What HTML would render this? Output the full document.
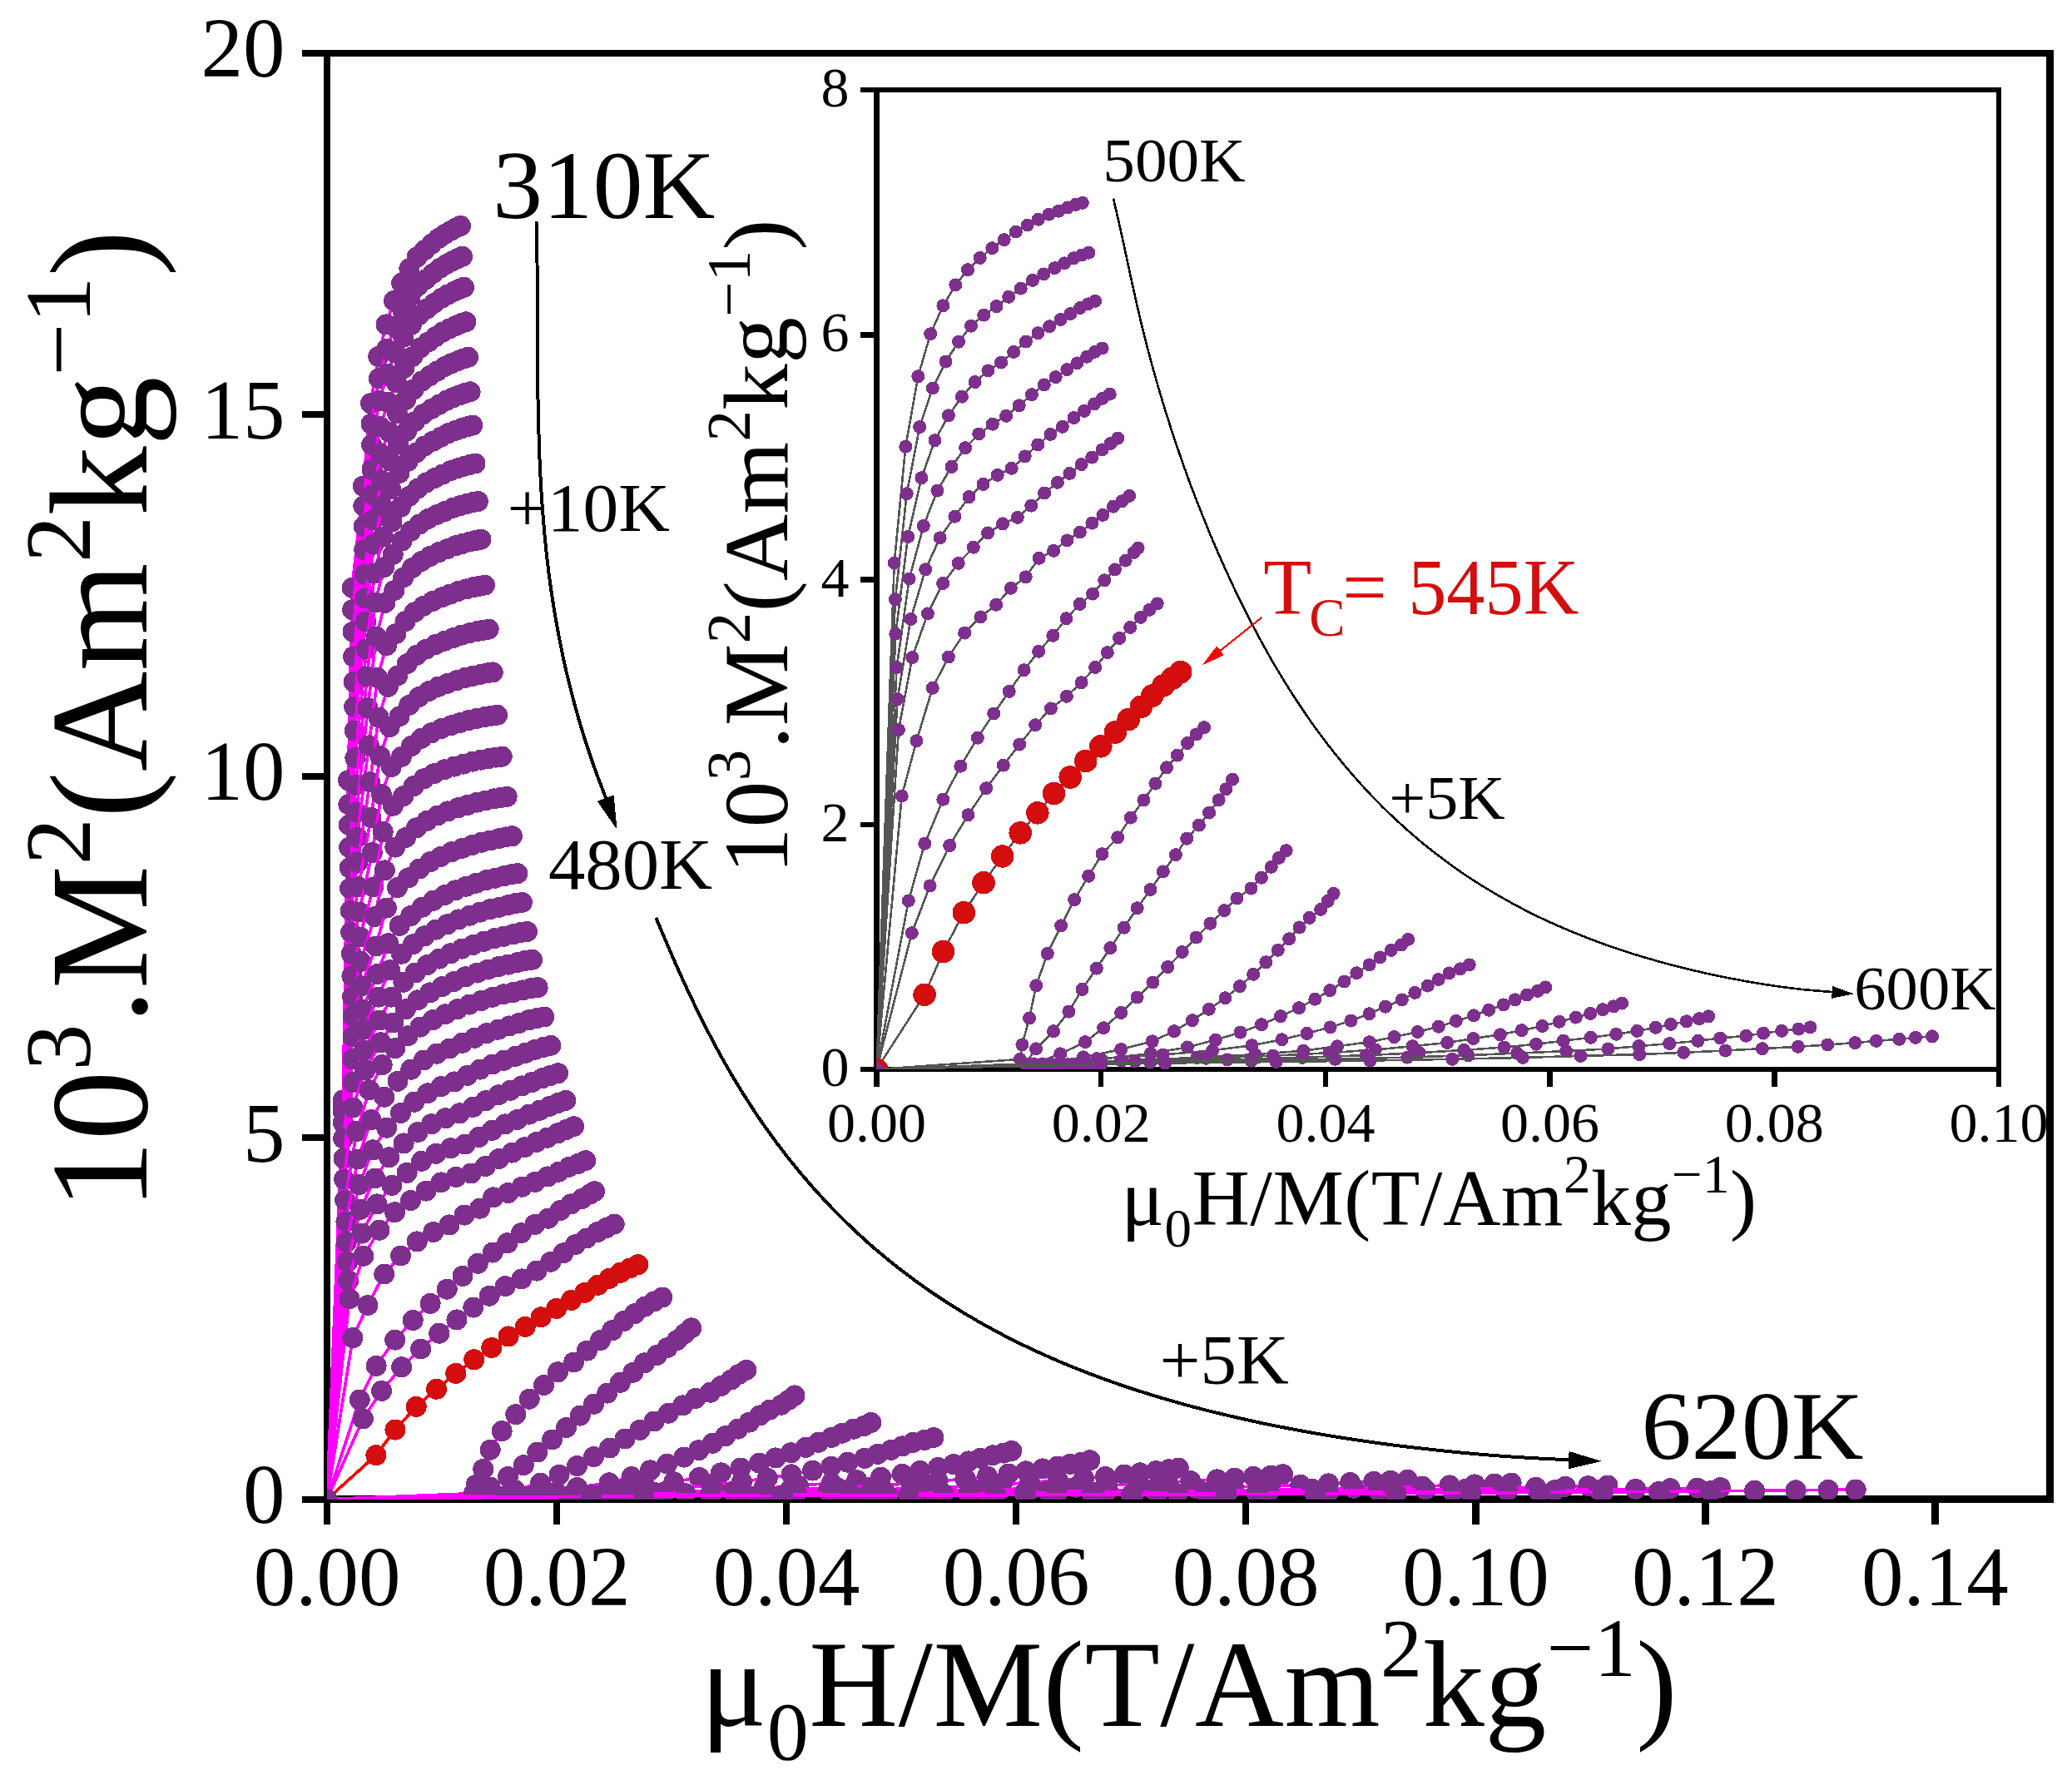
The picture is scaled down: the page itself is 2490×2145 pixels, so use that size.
<!DOCTYPE html>
<html lang="en"><head><meta charset="utf-8"><title>Arrott plot</title>
<style>html,body{margin:0;padding:0;background:#fff}svg{display:block}text{font-family:"Liberation Serif","Times New Roman",serif;fill:#000}</style></head><body>
<svg shape-rendering="crispEdges" width="2490" height="2145" viewBox="0 0 2490 2145">
<rect width="2490" height="2145" fill="#fff"/>
<defs><clipPath id="cm"><rect x="393" y="63.7" width="2070.5" height="1738"/></clipPath><clipPath id="ci"><rect x="1053.5" y="108" width="1348.5" height="1177"/></clipPath></defs>
<rect x="393" y="63.7" width="2070.5" height="1738" fill="none" stroke="#000" stroke-width="8.4"/>
<line x1="393" y1="1801.7" x2="393" y2="1831.9" stroke="#000" stroke-width="8.4"/>
<text x="393" y="1929" font-size="101" text-anchor="middle">0.00</text>
<line x1="669.1" y1="1801.7" x2="669.1" y2="1831.9" stroke="#000" stroke-width="8.4"/>
<text x="669.1" y="1929" font-size="101" text-anchor="middle">0.02</text>
<line x1="945.1" y1="1801.7" x2="945.1" y2="1831.9" stroke="#000" stroke-width="8.4"/>
<text x="945.1" y="1929" font-size="101" text-anchor="middle">0.04</text>
<line x1="1221.2" y1="1801.7" x2="1221.2" y2="1831.9" stroke="#000" stroke-width="8.4"/>
<text x="1221.2" y="1929" font-size="101" text-anchor="middle">0.06</text>
<line x1="1497.2" y1="1801.7" x2="1497.2" y2="1831.9" stroke="#000" stroke-width="8.4"/>
<text x="1497.2" y="1929" font-size="101" text-anchor="middle">0.08</text>
<line x1="1773.3" y1="1801.7" x2="1773.3" y2="1831.9" stroke="#000" stroke-width="8.4"/>
<text x="1773.3" y="1929" font-size="101" text-anchor="middle">0.10</text>
<line x1="2049.4" y1="1801.7" x2="2049.4" y2="1831.9" stroke="#000" stroke-width="8.4"/>
<text x="2049.4" y="1929" font-size="101" text-anchor="middle">0.12</text>
<line x1="2325.4" y1="1801.7" x2="2325.4" y2="1831.9" stroke="#000" stroke-width="8.4"/>
<text x="2325.4" y="1929" font-size="101" text-anchor="middle">0.14</text>
<line x1="393" y1="1801.7" x2="362.8" y2="1801.7" stroke="#000" stroke-width="8.4"/>
<text x="342.5" y="1830.2" font-size="101" text-anchor="end">0</text>
<line x1="393" y1="1367.2" x2="362.8" y2="1367.2" stroke="#000" stroke-width="8.4"/>
<text x="342.5" y="1395.7" font-size="101" text-anchor="end">5</text>
<line x1="393" y1="932.7" x2="362.8" y2="932.7" stroke="#000" stroke-width="8.4"/>
<text x="342.5" y="961.2" font-size="101" text-anchor="end">10</text>
<line x1="393" y1="498.2" x2="362.8" y2="498.2" stroke="#000" stroke-width="8.4"/>
<text x="342.5" y="526.7" font-size="101" text-anchor="end">15</text>
<line x1="393" y1="63.7" x2="362.8" y2="63.7" stroke="#000" stroke-width="8.4"/>
<text x="342.5" y="92.2" font-size="101" text-anchor="end">20</text>
<g clip-path="url(#cm)">
<polyline fill="none" stroke="#FF00FF" stroke-width="3.7" points="393,1801.7 412.3,1322 418.5,937.7 423.2,706.4 436.4,584.1 445.5,484.7 454.8,428.4 464,389.9 473.4,361.5 482.7,340.1 491.9,322.7 501.1,309.1 510.2,300.6 518.7,293.1 527.1,286.4 534.6,281.5 542,277.2 548.1,273.8 553.5,271.4"/>
<g fill="#7E2F8E"><circle cx="393" cy="1801.7" r="12.5"/><circle cx="412.3" cy="1322" r="12.5"/><circle cx="418.5" cy="937.7" r="12.5"/><circle cx="423.2" cy="706.4" r="12.5"/><circle cx="436.4" cy="584.1" r="12.5"/><circle cx="445.5" cy="484.7" r="12.5"/><circle cx="454.8" cy="428.4" r="12.5"/><circle cx="464" cy="389.9" r="12.5"/><circle cx="473.4" cy="361.5" r="12.5"/><circle cx="482.7" cy="340.1" r="12.5"/><circle cx="491.9" cy="322.7" r="12.5"/><circle cx="501.1" cy="309.1" r="12.5"/><circle cx="510.2" cy="300.6" r="12.5"/><circle cx="518.7" cy="293.1" r="12.5"/><circle cx="527.1" cy="286.4" r="12.5"/><circle cx="534.6" cy="281.5" r="12.5"/><circle cx="542" cy="277.2" r="12.5"/><circle cx="548.1" cy="273.8" r="12.5"/><circle cx="553.5" cy="271.4" r="12.5"/></g>
<polyline fill="none" stroke="#FF00FF" stroke-width="3.7" points="393,1801.7 412.3,1322.9 418.5,937.7 423.6,732.8 436.8,608.1 446,509.4 455.4,454.8 464.8,419.5 474.3,392.7 483.7,372.5 493.1,356.4 502.3,343.8 511.6,335.8 520.2,328.7 528.7,322.3 536.3,317.7 543.8,313.7 550,310.6 555.5,308.3"/>
<g fill="#7E2F8E"><circle cx="393" cy="1801.7" r="12.5"/><circle cx="412.3" cy="1322.9" r="12.5"/><circle cx="418.5" cy="937.7" r="12.5"/><circle cx="423.6" cy="732.8" r="12.5"/><circle cx="436.8" cy="608.1" r="12.5"/><circle cx="446" cy="509.4" r="12.5"/><circle cx="455.4" cy="454.8" r="12.5"/><circle cx="464.8" cy="419.5" r="12.5"/><circle cx="474.3" cy="392.7" r="12.5"/><circle cx="483.7" cy="372.5" r="12.5"/><circle cx="493.1" cy="356.4" r="12.5"/><circle cx="502.3" cy="343.8" r="12.5"/><circle cx="511.6" cy="335.8" r="12.5"/><circle cx="520.2" cy="328.7" r="12.5"/><circle cx="528.7" cy="322.3" r="12.5"/><circle cx="536.3" cy="317.7" r="12.5"/><circle cx="543.8" cy="313.7" r="12.5"/><circle cx="550" cy="310.6" r="12.5"/><circle cx="555.5" cy="308.3" r="12.5"/></g>
<polyline fill="none" stroke="#FF00FF" stroke-width="3.7" points="393,1801.7 412.3,1323.8 418.5,937.7 424,759.3 437.3,632.5 446.5,534.5 456,481.6 465.6,449.3 475.2,424.1 484.8,405.2 494.3,390.2 503.7,378.6 513.1,371 521.8,364.4 530.4,358.4 538.1,354.1 545.7,350.3 552,347.4 557.5,345.3"/>
<g fill="#7E2F8E"><circle cx="393" cy="1801.7" r="12.5"/><circle cx="412.3" cy="1323.8" r="12.5"/><circle cx="418.5" cy="937.7" r="12.5"/><circle cx="424" cy="759.3" r="12.5"/><circle cx="437.3" cy="632.5" r="12.5"/><circle cx="446.5" cy="534.5" r="12.5"/><circle cx="456" cy="481.6" r="12.5"/><circle cx="465.6" cy="449.3" r="12.5"/><circle cx="475.2" cy="424.1" r="12.5"/><circle cx="484.8" cy="405.2" r="12.5"/><circle cx="494.3" cy="390.2" r="12.5"/><circle cx="503.7" cy="378.6" r="12.5"/><circle cx="513.1" cy="371" r="12.5"/><circle cx="521.8" cy="364.4" r="12.5"/><circle cx="530.4" cy="358.4" r="12.5"/><circle cx="538.1" cy="354.1" r="12.5"/><circle cx="545.7" cy="350.3" r="12.5"/><circle cx="552" cy="347.4" r="12.5"/><circle cx="557.5" cy="345.3" r="12.5"/></g>
<polyline fill="none" stroke="#FF00FF" stroke-width="3.7" points="393,1801.7 412.3,1324.6 418.5,937.7 424.5,789 437.8,660.7 447.1,563.9 456.8,512.7 466.5,483.6 476.3,459.9 486,442.3 495.7,428.6 505.2,417.9 514.8,410.8 523.6,404.6 532.4,398.9 540.2,395 547.9,391.4 554.3,388.7 559.9,386.8"/>
<g fill="#7E2F8E"><circle cx="393" cy="1801.7" r="12.5"/><circle cx="412.3" cy="1324.6" r="12.5"/><circle cx="418.5" cy="937.7" r="12.5"/><circle cx="424.5" cy="789" r="12.5"/><circle cx="437.8" cy="660.7" r="12.5"/><circle cx="447.1" cy="563.9" r="12.5"/><circle cx="456.8" cy="512.7" r="12.5"/><circle cx="466.5" cy="483.6" r="12.5"/><circle cx="476.3" cy="459.9" r="12.5"/><circle cx="486" cy="442.3" r="12.5"/><circle cx="495.7" cy="428.6" r="12.5"/><circle cx="505.2" cy="417.9" r="12.5"/><circle cx="514.8" cy="410.8" r="12.5"/><circle cx="523.6" cy="404.6" r="12.5"/><circle cx="532.4" cy="398.9" r="12.5"/><circle cx="540.2" cy="395" r="12.5"/><circle cx="547.9" cy="391.4" r="12.5"/><circle cx="554.3" cy="388.7" r="12.5"/><circle cx="559.9" cy="386.8" r="12.5"/></g>
<polyline fill="none" stroke="#FF00FF" stroke-width="3.7" points="393,1801.7 412.3,1325.5 418.5,937.7 425.1,819.5 438.4,690.1 447.8,594.6 457.6,545.2 467.5,519 477.5,496.9 487.4,480.6 497.2,468 506.9,458.2 516.6,451.6 525.6,445.9 534.5,440.5 542.5,436.8 550.3,433.6 556.8,431.1 562.5,429.3"/>
<g fill="#7E2F8E"><circle cx="393" cy="1801.7" r="12.5"/><circle cx="412.3" cy="1325.5" r="12.5"/><circle cx="418.5" cy="937.7" r="12.5"/><circle cx="425.1" cy="819.5" r="12.5"/><circle cx="438.4" cy="690.1" r="12.5"/><circle cx="447.8" cy="594.6" r="12.5"/><circle cx="457.6" cy="545.2" r="12.5"/><circle cx="467.5" cy="519" r="12.5"/><circle cx="477.5" cy="496.9" r="12.5"/><circle cx="487.4" cy="480.6" r="12.5"/><circle cx="497.2" cy="468" r="12.5"/><circle cx="506.9" cy="458.2" r="12.5"/><circle cx="516.6" cy="451.6" r="12.5"/><circle cx="525.6" cy="445.9" r="12.5"/><circle cx="534.5" cy="440.5" r="12.5"/><circle cx="542.5" cy="436.8" r="12.5"/><circle cx="550.3" cy="433.6" r="12.5"/><circle cx="556.8" cy="431.1" r="12.5"/><circle cx="562.5" cy="429.3" r="12.5"/></g>
<polyline fill="none" stroke="#FF00FF" stroke-width="3.7" points="393,1801.7 412.3,1326.4 418.5,937.7 425.7,849.2 439,718.9 448.5,624.7 458.5,577.1 468.6,553.8 478.7,533.2 488.7,518 498.7,506.6 508.6,497.7 518.4,491.4 527.6,486.2 536.7,481.2 544.7,477.7 552.7,474.7 559.3,472.4 565.1,470.8"/>
<g fill="#7E2F8E"><circle cx="393" cy="1801.7" r="12.5"/><circle cx="412.3" cy="1326.4" r="12.5"/><circle cx="418.5" cy="937.7" r="12.5"/><circle cx="425.7" cy="849.2" r="12.5"/><circle cx="439" cy="718.9" r="12.5"/><circle cx="448.5" cy="624.7" r="12.5"/><circle cx="458.5" cy="577.1" r="12.5"/><circle cx="468.6" cy="553.8" r="12.5"/><circle cx="478.7" cy="533.2" r="12.5"/><circle cx="488.7" cy="518" r="12.5"/><circle cx="498.7" cy="506.6" r="12.5"/><circle cx="508.6" cy="497.7" r="12.5"/><circle cx="518.4" cy="491.4" r="12.5"/><circle cx="527.6" cy="486.2" r="12.5"/><circle cx="536.7" cy="481.2" r="12.5"/><circle cx="544.7" cy="477.7" r="12.5"/><circle cx="552.7" cy="474.7" r="12.5"/><circle cx="559.3" cy="472.4" r="12.5"/><circle cx="565.1" cy="470.8" r="12.5"/></g>
<polyline fill="none" stroke="#FF00FF" stroke-width="3.7" points="393,1801.7 412.3,1327.2 418.9,966.7 426.2,878 439.6,747 449.2,654.2 459.3,608.3 469.6,587.7 479.9,568.5 490.1,554.4 500.3,544.1 510.3,536 520.3,530.2 529.7,525.3 538.9,520.6 547.1,517.5 555.2,514.6 561.9,512.6 567.8,511.1"/>
<g fill="#7E2F8E"><circle cx="393" cy="1801.7" r="12.5"/><circle cx="412.3" cy="1327.2" r="12.5"/><circle cx="418.9" cy="966.7" r="12.5"/><circle cx="426.2" cy="878" r="12.5"/><circle cx="439.6" cy="747" r="12.5"/><circle cx="449.2" cy="654.2" r="12.5"/><circle cx="459.3" cy="608.3" r="12.5"/><circle cx="469.6" cy="587.7" r="12.5"/><circle cx="479.9" cy="568.5" r="12.5"/><circle cx="490.1" cy="554.4" r="12.5"/><circle cx="500.3" cy="544.1" r="12.5"/><circle cx="510.3" cy="536" r="12.5"/><circle cx="520.3" cy="530.2" r="12.5"/><circle cx="529.7" cy="525.3" r="12.5"/><circle cx="538.9" cy="520.6" r="12.5"/><circle cx="547.1" cy="517.5" r="12.5"/><circle cx="555.2" cy="514.6" r="12.5"/><circle cx="561.9" cy="512.6" r="12.5"/><circle cx="567.8" cy="511.1" r="12.5"/></g>
<polyline fill="none" stroke="#FF00FF" stroke-width="3.7" points="393,1801.7 412.3,1328.1 419.3,991.4 426.9,910.8 440.4,780 450.1,689.1 460.4,645 470.9,627.1 481.4,609.3 491.8,596.4 502.2,587.1 512.4,579.9 522.6,574.5 532.1,570.1 541.5,565.7 549.9,562.8 558.1,560.2 564.9,558.3 571,557"/>
<g fill="#7E2F8E"><circle cx="393" cy="1801.7" r="12.5"/><circle cx="412.3" cy="1328.1" r="12.5"/><circle cx="419.3" cy="991.4" r="12.5"/><circle cx="426.9" cy="910.8" r="12.5"/><circle cx="440.4" cy="780" r="12.5"/><circle cx="450.1" cy="689.1" r="12.5"/><circle cx="460.4" cy="645" r="12.5"/><circle cx="470.9" cy="627.1" r="12.5"/><circle cx="481.4" cy="609.3" r="12.5"/><circle cx="491.8" cy="596.4" r="12.5"/><circle cx="502.2" cy="587.1" r="12.5"/><circle cx="512.4" cy="579.9" r="12.5"/><circle cx="522.6" cy="574.5" r="12.5"/><circle cx="532.1" cy="570.1" r="12.5"/><circle cx="541.5" cy="565.7" r="12.5"/><circle cx="549.9" cy="562.8" r="12.5"/><circle cx="558.1" cy="560.2" r="12.5"/><circle cx="564.9" cy="558.3" r="12.5"/><circle cx="571" cy="557" r="12.5"/></g>
<polyline fill="none" stroke="#FF00FF" stroke-width="3.7" points="393,1801.7 412.3,1329 419.7,1018.3 427.6,943.4 441.1,813 451,724 461.5,681.7 472.2,666.4 482.9,650 493.6,638.2 504.1,629.9 514.6,623.5 525,618.5 534.7,614.5 544.3,610.4 552.8,607.8 561.2,605.4 568.2,603.7 574.3,602.5"/>
<g fill="#7E2F8E"><circle cx="393" cy="1801.7" r="12.5"/><circle cx="412.3" cy="1329" r="12.5"/><circle cx="419.7" cy="1018.3" r="12.5"/><circle cx="427.6" cy="943.4" r="12.5"/><circle cx="441.1" cy="813" r="12.5"/><circle cx="451" cy="724" r="12.5"/><circle cx="461.5" cy="681.7" r="12.5"/><circle cx="472.2" cy="666.4" r="12.5"/><circle cx="482.9" cy="650" r="12.5"/><circle cx="493.6" cy="638.2" r="12.5"/><circle cx="504.1" cy="629.9" r="12.5"/><circle cx="514.6" cy="623.5" r="12.5"/><circle cx="525" cy="618.5" r="12.5"/><circle cx="534.7" cy="614.5" r="12.5"/><circle cx="544.3" cy="610.4" r="12.5"/><circle cx="552.8" cy="607.8" r="12.5"/><circle cx="561.2" cy="605.4" r="12.5"/><circle cx="568.2" cy="603.7" r="12.5"/><circle cx="574.3" cy="602.5" r="12.5"/></g>
<polyline fill="none" stroke="#FF00FF" stroke-width="3.7" points="393,1801.7 412.3,1329.9 420.2,1042.9 428.4,976.1 442.1,850.7 452.1,765 462.8,724.4 473.8,709.6 484.7,693.9 495.5,682.5 506.3,674.6 517,668.4 527.6,663.6 537.5,659.7 547.2,655.8 555.9,653.3 564.5,651 571.6,649.4 577.9,648.2"/>
<g fill="#7E2F8E"><circle cx="393" cy="1801.7" r="12.5"/><circle cx="412.3" cy="1329.9" r="12.5"/><circle cx="420.2" cy="1042.9" r="12.5"/><circle cx="428.4" cy="976.1" r="12.5"/><circle cx="442.1" cy="850.7" r="12.5"/><circle cx="452.1" cy="765" r="12.5"/><circle cx="462.8" cy="724.4" r="12.5"/><circle cx="473.8" cy="709.6" r="12.5"/><circle cx="484.7" cy="693.9" r="12.5"/><circle cx="495.5" cy="682.5" r="12.5"/><circle cx="506.3" cy="674.6" r="12.5"/><circle cx="517" cy="668.4" r="12.5"/><circle cx="527.6" cy="663.6" r="12.5"/><circle cx="537.5" cy="659.7" r="12.5"/><circle cx="547.2" cy="655.8" r="12.5"/><circle cx="555.9" cy="653.3" r="12.5"/><circle cx="564.5" cy="651" r="12.5"/><circle cx="571.6" cy="649.4" r="12.5"/><circle cx="577.9" cy="648.2" r="12.5"/></g>
<polyline fill="none" stroke="#FF00FF" stroke-width="3.7" points="393,1801.7 412.3,1330.8 420.6,1067.5 429.1,1006.4 443.3,895.9 453.6,814.4 464.5,775.7 475.8,761.6 487,746.6 498.1,735.8 509.1,728.2 520.1,722.4 530.9,717.8 541.1,714.1 551,710.3 560,707.9 568.8,705.7 576,704.2 582.4,703.1"/>
<g fill="#7E2F8E"><circle cx="393" cy="1801.7" r="12.5"/><circle cx="412.3" cy="1330.8" r="12.5"/><circle cx="420.6" cy="1067.5" r="12.5"/><circle cx="429.1" cy="1006.4" r="12.5"/><circle cx="443.3" cy="895.9" r="12.5"/><circle cx="453.6" cy="814.4" r="12.5"/><circle cx="464.5" cy="775.7" r="12.5"/><circle cx="475.8" cy="761.6" r="12.5"/><circle cx="487" cy="746.6" r="12.5"/><circle cx="498.1" cy="735.8" r="12.5"/><circle cx="509.1" cy="728.2" r="12.5"/><circle cx="520.1" cy="722.4" r="12.5"/><circle cx="530.9" cy="717.8" r="12.5"/><circle cx="541.1" cy="714.1" r="12.5"/><circle cx="551" cy="710.3" r="12.5"/><circle cx="560" cy="707.9" r="12.5"/><circle cx="568.8" cy="705.7" r="12.5"/><circle cx="576" cy="704.2" r="12.5"/><circle cx="582.4" cy="703.1" r="12.5"/></g>
<polyline fill="none" stroke="#FF00FF" stroke-width="3.7" points="393,1801.7 412.3,1331.6 421.2,1094.4 429.9,1036.2 444.6,939.7 455.1,862.1 466.3,825.3 477.8,811.9 489.3,797.6 500.7,787.3 512,780.1 523.3,774.5 534.4,770.2 544.8,766.6 555,763.1 564.1,760.8 573.2,758.7 580.6,757.2 587.2,756.2"/>
<g fill="#7E2F8E"><circle cx="393" cy="1801.7" r="12.5"/><circle cx="412.3" cy="1331.6" r="12.5"/><circle cx="421.2" cy="1094.4" r="12.5"/><circle cx="429.9" cy="1036.2" r="12.5"/><circle cx="444.6" cy="939.7" r="12.5"/><circle cx="455.1" cy="862.1" r="12.5"/><circle cx="466.3" cy="825.3" r="12.5"/><circle cx="477.8" cy="811.9" r="12.5"/><circle cx="489.3" cy="797.6" r="12.5"/><circle cx="500.7" cy="787.3" r="12.5"/><circle cx="512" cy="780.1" r="12.5"/><circle cx="523.3" cy="774.5" r="12.5"/><circle cx="534.4" cy="770.2" r="12.5"/><circle cx="544.8" cy="766.6" r="12.5"/><circle cx="555" cy="763.1" r="12.5"/><circle cx="564.1" cy="760.8" r="12.5"/><circle cx="573.2" cy="758.7" r="12.5"/><circle cx="580.6" cy="757.2" r="12.5"/><circle cx="587.2" cy="756.2" r="12.5"/></g>
<polyline fill="none" stroke="#FF00FF" stroke-width="3.7" points="393,1801.7 412.3,1332.5 421.7,1120.2 430.7,1065.9 445.9,982.3 456.7,908.6 468.2,873.6 480,860.8 491.8,847.3 503.5,837.5 515.1,830.6 526.6,825.3 538,821.2 548.7,817.8 559.1,814.4 568.5,812.3 577.8,810.3 585.4,808.9 592.2,807.9"/>
<g fill="#7E2F8E"><circle cx="393" cy="1801.7" r="12.5"/><circle cx="412.3" cy="1332.5" r="12.5"/><circle cx="421.7" cy="1120.2" r="12.5"/><circle cx="430.7" cy="1065.9" r="12.5"/><circle cx="445.9" cy="982.3" r="12.5"/><circle cx="456.7" cy="908.6" r="12.5"/><circle cx="468.2" cy="873.6" r="12.5"/><circle cx="480" cy="860.8" r="12.5"/><circle cx="491.8" cy="847.3" r="12.5"/><circle cx="503.5" cy="837.5" r="12.5"/><circle cx="515.1" cy="830.6" r="12.5"/><circle cx="526.6" cy="825.3" r="12.5"/><circle cx="538" cy="821.2" r="12.5"/><circle cx="548.7" cy="817.8" r="12.5"/><circle cx="559.1" cy="814.4" r="12.5"/><circle cx="568.5" cy="812.3" r="12.5"/><circle cx="577.8" cy="810.3" r="12.5"/><circle cx="585.4" cy="808.9" r="12.5"/><circle cx="592.2" cy="807.9" r="12.5"/></g>
<polyline fill="none" stroke="#FF00FF" stroke-width="3.7" points="393,1801.7 412.3,1333.4 422.2,1146 431.6,1096 447.3,1024.6 458.4,954.7 470.2,921.5 482.4,909.4 494.4,896.5 506.4,887.3 518.4,880.8 530.2,875.7 541.9,871.8 552.8,868.6 563.6,865.4 573.3,863.3 582.8,861.5 590.6,860.1 597.5,859.2"/>
<g fill="#7E2F8E"><circle cx="393" cy="1801.7" r="12.5"/><circle cx="412.3" cy="1333.4" r="12.5"/><circle cx="422.2" cy="1146" r="12.5"/><circle cx="431.6" cy="1096" r="12.5"/><circle cx="447.3" cy="1024.6" r="12.5"/><circle cx="458.4" cy="954.7" r="12.5"/><circle cx="470.2" cy="921.5" r="12.5"/><circle cx="482.4" cy="909.4" r="12.5"/><circle cx="494.4" cy="896.5" r="12.5"/><circle cx="506.4" cy="887.3" r="12.5"/><circle cx="518.4" cy="880.8" r="12.5"/><circle cx="530.2" cy="875.7" r="12.5"/><circle cx="541.9" cy="871.8" r="12.5"/><circle cx="552.8" cy="868.6" r="12.5"/><circle cx="563.6" cy="865.4" r="12.5"/><circle cx="573.3" cy="863.3" r="12.5"/><circle cx="582.8" cy="861.5" r="12.5"/><circle cx="590.6" cy="860.1" r="12.5"/><circle cx="597.5" cy="859.2" r="12.5"/></g>
<polyline fill="none" stroke="#FF00FF" stroke-width="3.7" points="393,1801.7 412.3,1334.2 422.9,1172.9 432.5,1126 448.8,1065.9 460.2,999.6 472.3,968.2 484.8,956.7 497.2,944.5 509.6,935.8 521.8,929.6 534,924.8 546,921.1 557.3,918.1 568.3,915.1 578.2,913.1 588,911.3 596,910.1 603.2,909.2"/>
<g fill="#7E2F8E"><circle cx="393" cy="1801.7" r="12.5"/><circle cx="412.3" cy="1334.2" r="12.5"/><circle cx="422.9" cy="1172.9" r="12.5"/><circle cx="432.5" cy="1126" r="12.5"/><circle cx="448.8" cy="1065.9" r="12.5"/><circle cx="460.2" cy="999.6" r="12.5"/><circle cx="472.3" cy="968.2" r="12.5"/><circle cx="484.8" cy="956.7" r="12.5"/><circle cx="497.2" cy="944.5" r="12.5"/><circle cx="509.6" cy="935.8" r="12.5"/><circle cx="521.8" cy="929.6" r="12.5"/><circle cx="534" cy="924.8" r="12.5"/><circle cx="546" cy="921.1" r="12.5"/><circle cx="557.3" cy="918.1" r="12.5"/><circle cx="568.3" cy="915.1" r="12.5"/><circle cx="578.2" cy="913.1" r="12.5"/><circle cx="588" cy="911.3" r="12.5"/><circle cx="596" cy="910.1" r="12.5"/><circle cx="603.2" cy="909.2" r="12.5"/></g>
<polyline fill="none" stroke="#FF00FF" stroke-width="3.7" points="393,1801.7 412.3,1335.1 423.5,1197.5 433.5,1155.4 450.2,1101.5 462.3,1045.9 474.8,1018.1 487.7,1006.5 500.4,994.9 513.1,986.4 525.7,980 538.2,974.9 550.5,970.8 562,967.4 573.4,964.1 583.5,962 593.6,959.9 601.8,958.4 609.1,957.4"/>
<g fill="#7E2F8E"><circle cx="393" cy="1801.7" r="12.5"/><circle cx="412.3" cy="1335.1" r="12.5"/><circle cx="423.5" cy="1197.5" r="12.5"/><circle cx="433.5" cy="1155.4" r="12.5"/><circle cx="450.2" cy="1101.5" r="12.5"/><circle cx="462.3" cy="1045.9" r="12.5"/><circle cx="474.8" cy="1018.1" r="12.5"/><circle cx="487.7" cy="1006.5" r="12.5"/><circle cx="500.4" cy="994.9" r="12.5"/><circle cx="513.1" cy="986.4" r="12.5"/><circle cx="525.7" cy="980" r="12.5"/><circle cx="538.2" cy="974.9" r="12.5"/><circle cx="550.5" cy="970.8" r="12.5"/><circle cx="562" cy="967.4" r="12.5"/><circle cx="573.4" cy="964.1" r="12.5"/><circle cx="583.5" cy="962" r="12.5"/><circle cx="593.6" cy="959.9" r="12.5"/><circle cx="601.8" cy="958.4" r="12.5"/><circle cx="609.1" cy="957.4" r="12.5"/></g>
<polyline fill="none" stroke="#FF00FF" stroke-width="3.7" points="393,1801.7 412.3,1336 424,1221 434.5,1184.9 451.7,1137 464.4,1091.1 477.5,1066.6 490.7,1054.9 503.9,1044 516.9,1035.7 529.9,1029.3 542.7,1023.8 555.4,1019.4 567.2,1015.7 578.8,1012.2 589.2,1010 599.5,1007.7 607.9,1005.9 615.4,1004.8"/>
<g fill="#7E2F8E"><circle cx="393" cy="1801.7" r="12.5"/><circle cx="412.3" cy="1336" r="12.5"/><circle cx="424" cy="1221" r="12.5"/><circle cx="434.5" cy="1184.9" r="12.5"/><circle cx="451.7" cy="1137" r="12.5"/><circle cx="464.4" cy="1091.1" r="12.5"/><circle cx="477.5" cy="1066.6" r="12.5"/><circle cx="490.7" cy="1054.9" r="12.5"/><circle cx="503.9" cy="1044" r="12.5"/><circle cx="516.9" cy="1035.7" r="12.5"/><circle cx="529.9" cy="1029.3" r="12.5"/><circle cx="542.7" cy="1023.8" r="12.5"/><circle cx="555.4" cy="1019.4" r="12.5"/><circle cx="567.2" cy="1015.7" r="12.5"/><circle cx="578.8" cy="1012.2" r="12.5"/><circle cx="589.2" cy="1010" r="12.5"/><circle cx="599.5" cy="1007.7" r="12.5"/><circle cx="607.9" cy="1005.9" r="12.5"/><circle cx="615.4" cy="1004.8" r="12.5"/></g>
<polyline fill="none" stroke="#FF00FF" stroke-width="3.7" points="393,1801.7 412.3,1349 424,1245.7 435.6,1213.2 453.3,1170.7 466.7,1133.6 480.2,1112.3 493.8,1100.5 507.4,1090.2 520.9,1082.2 534.2,1075.7 547.3,1069.9 560.3,1065.2 572.4,1061.2 584.4,1057.6 595.1,1055.2 605.6,1052.8 614.2,1050.8 621.9,1049.6"/>
<g fill="#7E2F8E"><circle cx="393" cy="1801.7" r="12.5"/><circle cx="412.3" cy="1349" r="12.5"/><circle cx="424" cy="1245.7" r="12.5"/><circle cx="435.6" cy="1213.2" r="12.5"/><circle cx="453.3" cy="1170.7" r="12.5"/><circle cx="466.7" cy="1133.6" r="12.5"/><circle cx="480.2" cy="1112.3" r="12.5"/><circle cx="493.8" cy="1100.5" r="12.5"/><circle cx="507.4" cy="1090.2" r="12.5"/><circle cx="520.9" cy="1082.2" r="12.5"/><circle cx="534.2" cy="1075.7" r="12.5"/><circle cx="547.3" cy="1069.9" r="12.5"/><circle cx="560.3" cy="1065.2" r="12.5"/><circle cx="572.4" cy="1061.2" r="12.5"/><circle cx="584.4" cy="1057.6" r="12.5"/><circle cx="595.1" cy="1055.2" r="12.5"/><circle cx="605.6" cy="1052.8" r="12.5"/><circle cx="614.2" cy="1050.8" r="12.5"/><circle cx="621.9" cy="1049.6" r="12.5"/></g>
<polyline fill="none" stroke="#FF00FF" stroke-width="3.7" points="393,1801.7 412.5,1368 424,1272.6 436.6,1237.3 454.6,1198.1 468.5,1165.8 482.5,1146.2 496.4,1134.7 510.3,1124.8 524.1,1117.1 537.7,1110.7 551.2,1104.9 564.4,1100.2 576.8,1096.1 589,1092.6 600,1090.2 610.7,1087.6 619.6,1085.6 627.4,1084.4"/>
<g fill="#7E2F8E"><circle cx="393" cy="1801.7" r="12.5"/><circle cx="412.5" cy="1368" r="12.5"/><circle cx="424" cy="1272.6" r="12.5"/><circle cx="436.6" cy="1237.3" r="12.5"/><circle cx="454.6" cy="1198.1" r="12.5"/><circle cx="468.5" cy="1165.8" r="12.5"/><circle cx="482.5" cy="1146.2" r="12.5"/><circle cx="496.4" cy="1134.7" r="12.5"/><circle cx="510.3" cy="1124.8" r="12.5"/><circle cx="524.1" cy="1117.1" r="12.5"/><circle cx="537.7" cy="1110.7" r="12.5"/><circle cx="551.2" cy="1104.9" r="12.5"/><circle cx="564.4" cy="1100.2" r="12.5"/><circle cx="576.8" cy="1096.1" r="12.5"/><circle cx="589" cy="1092.6" r="12.5"/><circle cx="600" cy="1090.2" r="12.5"/><circle cx="610.7" cy="1087.6" r="12.5"/><circle cx="619.6" cy="1085.6" r="12.5"/><circle cx="627.4" cy="1084.4" r="12.5"/></g>
<polyline fill="none" stroke="#FF00FF" stroke-width="3.7" points="393,1801.7 413,1392 424,1300.6 437.7,1262 456.1,1226 470.5,1198.1 484.9,1180.2 499.1,1169 513.4,1159.6 527.6,1152.1 541.6,1145.8 555.3,1140.1 568.9,1135.3 581.6,1131.3 594.1,1127.7 605.3,1125.3 616.3,1122.8 625.3,1120.7 633.4,1119.5"/>
<g fill="#7E2F8E"><circle cx="393" cy="1801.7" r="12.5"/><circle cx="413" cy="1392" r="12.5"/><circle cx="424" cy="1300.6" r="12.5"/><circle cx="437.7" cy="1262" r="12.5"/><circle cx="456.1" cy="1226" r="12.5"/><circle cx="470.5" cy="1198.1" r="12.5"/><circle cx="484.9" cy="1180.2" r="12.5"/><circle cx="499.1" cy="1169" r="12.5"/><circle cx="513.4" cy="1159.6" r="12.5"/><circle cx="527.6" cy="1152.1" r="12.5"/><circle cx="541.6" cy="1145.8" r="12.5"/><circle cx="555.3" cy="1140.1" r="12.5"/><circle cx="568.9" cy="1135.3" r="12.5"/><circle cx="581.6" cy="1131.3" r="12.5"/><circle cx="594.1" cy="1127.7" r="12.5"/><circle cx="605.3" cy="1125.3" r="12.5"/><circle cx="616.3" cy="1122.8" r="12.5"/><circle cx="625.3" cy="1120.7" r="12.5"/><circle cx="633.4" cy="1119.5" r="12.5"/></g>
<polyline fill="none" stroke="#FF00FF" stroke-width="3.7" points="393,1801.7 413.5,1417 424,1331 438.8,1285.9 457.6,1252.8 472.6,1229 487.4,1212.8 502,1201.8 516.7,1192.9 531.2,1185.7 545.5,1179.5 559.6,1173.8 573.5,1169 586.5,1165 599.3,1161.5 610.8,1159.1 622.1,1156.5 631.3,1154.4 639.5,1153.2"/>
<g fill="#7E2F8E"><circle cx="393" cy="1801.7" r="12.5"/><circle cx="413.5" cy="1417" r="12.5"/><circle cx="424" cy="1331" r="12.5"/><circle cx="438.8" cy="1285.9" r="12.5"/><circle cx="457.6" cy="1252.8" r="12.5"/><circle cx="472.6" cy="1229" r="12.5"/><circle cx="487.4" cy="1212.8" r="12.5"/><circle cx="502" cy="1201.8" r="12.5"/><circle cx="516.7" cy="1192.9" r="12.5"/><circle cx="531.2" cy="1185.7" r="12.5"/><circle cx="545.5" cy="1179.5" r="12.5"/><circle cx="559.6" cy="1173.8" r="12.5"/><circle cx="573.5" cy="1169" r="12.5"/><circle cx="586.5" cy="1165" r="12.5"/><circle cx="599.3" cy="1161.5" r="12.5"/><circle cx="610.8" cy="1159.1" r="12.5"/><circle cx="622.1" cy="1156.5" r="12.5"/><circle cx="631.3" cy="1154.4" r="12.5"/><circle cx="639.5" cy="1153.2" r="12.5"/></g>
<polyline fill="none" stroke="#FF00FF" stroke-width="3.7" points="393,1801.7 414.7,1442.2 428.6,1359.6 444,1309.8 459.2,1279.6 474.8,1259.6 490.1,1244.8 505,1234.1 520.1,1225.7 535.1,1218.8 549.8,1212.7 564.2,1207.1 578.5,1202.4 591.8,1198.3 604.9,1194.8 616.7,1192.5 628.2,1189.9 637.7,1187.8 646.1,1186.6"/>
<g fill="#7E2F8E"><circle cx="393" cy="1801.7" r="12.5"/><circle cx="414.7" cy="1442.2" r="12.5"/><circle cx="428.6" cy="1359.6" r="12.5"/><circle cx="444" cy="1309.8" r="12.5"/><circle cx="459.2" cy="1279.6" r="12.5"/><circle cx="474.8" cy="1259.6" r="12.5"/><circle cx="490.1" cy="1244.8" r="12.5"/><circle cx="505" cy="1234.1" r="12.5"/><circle cx="520.1" cy="1225.7" r="12.5"/><circle cx="535.1" cy="1218.8" r="12.5"/><circle cx="549.8" cy="1212.7" r="12.5"/><circle cx="564.2" cy="1207.1" r="12.5"/><circle cx="578.5" cy="1202.4" r="12.5"/><circle cx="591.8" cy="1198.3" r="12.5"/><circle cx="604.9" cy="1194.8" r="12.5"/><circle cx="616.7" cy="1192.5" r="12.5"/><circle cx="628.2" cy="1189.9" r="12.5"/><circle cx="637.7" cy="1187.8" r="12.5"/><circle cx="646.1" cy="1186.6" r="12.5"/></g>
<polyline fill="none" stroke="#FF00FF" stroke-width="3.7" points="393,1801.7 415.9,1468.1 430,1393 446,1345.6 461.8,1318.2 478,1299.3 493.8,1285.2 509.2,1274 524.9,1266.2 540.4,1260 555.5,1253.3 570.3,1247.3 584.9,1241.6 598.5,1237.2 611.9,1232.9 623.8,1229.5 635.5,1225.8 645.2,1223.7 653.8,1222"/>
<g fill="#7E2F8E"><circle cx="393" cy="1801.7" r="12.5"/><circle cx="415.9" cy="1468.1" r="12.5"/><circle cx="430" cy="1393" r="12.5"/><circle cx="446" cy="1345.6" r="12.5"/><circle cx="461.8" cy="1318.2" r="12.5"/><circle cx="478" cy="1299.3" r="12.5"/><circle cx="493.8" cy="1285.2" r="12.5"/><circle cx="509.2" cy="1274" r="12.5"/><circle cx="524.9" cy="1266.2" r="12.5"/><circle cx="540.4" cy="1260" r="12.5"/><circle cx="555.5" cy="1253.3" r="12.5"/><circle cx="570.3" cy="1247.3" r="12.5"/><circle cx="584.9" cy="1241.6" r="12.5"/><circle cx="598.5" cy="1237.2" r="12.5"/><circle cx="611.9" cy="1232.9" r="12.5"/><circle cx="623.8" cy="1229.5" r="12.5"/><circle cx="635.5" cy="1225.8" r="12.5"/><circle cx="645.2" cy="1223.7" r="12.5"/><circle cx="653.8" cy="1222" r="12.5"/></g>
<polyline fill="none" stroke="#FF00FF" stroke-width="3.7" points="393,1801.7 416.3,1492.5 431.5,1423.6 448.2,1381.8 464.6,1355.2 481.4,1337.6 497.8,1324.2 513.8,1313.8 530,1305.7 546.1,1299.9 561.6,1292.4 576.7,1285.1 591.6,1279 605.6,1274.3 619.3,1269.4 631.4,1265.3 643.3,1261.2 653.1,1258.4 661.8,1256.3"/>
<g fill="#7E2F8E"><circle cx="393" cy="1801.7" r="12.5"/><circle cx="416.3" cy="1492.5" r="12.5"/><circle cx="431.5" cy="1423.6" r="12.5"/><circle cx="448.2" cy="1381.8" r="12.5"/><circle cx="464.6" cy="1355.2" r="12.5"/><circle cx="481.4" cy="1337.6" r="12.5"/><circle cx="497.8" cy="1324.2" r="12.5"/><circle cx="513.8" cy="1313.8" r="12.5"/><circle cx="530" cy="1305.7" r="12.5"/><circle cx="546.1" cy="1299.9" r="12.5"/><circle cx="561.6" cy="1292.4" r="12.5"/><circle cx="576.7" cy="1285.1" r="12.5"/><circle cx="591.6" cy="1279" r="12.5"/><circle cx="605.6" cy="1274.3" r="12.5"/><circle cx="619.3" cy="1269.4" r="12.5"/><circle cx="631.4" cy="1265.3" r="12.5"/><circle cx="643.3" cy="1261.2" r="12.5"/><circle cx="653.1" cy="1258.4" r="12.5"/><circle cx="661.8" cy="1256.3" r="12.5"/></g>
<polyline fill="none" stroke="#FF00FF" stroke-width="3.7" points="393,1801.7 417.7,1516.4 433.1,1453.4 450.6,1416 467.7,1390.8 485.1,1373.9 502.1,1360.5 518.7,1350.7 535.6,1343.7 552.3,1337.8 568.3,1330.4 583.8,1322.7 599,1315.8 613.3,1310.3 627.2,1304.9 639.6,1300.4 651.7,1295.8 661.6,1292.4 670.5,1289.8"/>
<g fill="#7E2F8E"><circle cx="393" cy="1801.7" r="12.5"/><circle cx="417.7" cy="1516.4" r="12.5"/><circle cx="433.1" cy="1453.4" r="12.5"/><circle cx="450.6" cy="1416" r="12.5"/><circle cx="467.7" cy="1390.8" r="12.5"/><circle cx="485.1" cy="1373.9" r="12.5"/><circle cx="502.1" cy="1360.5" r="12.5"/><circle cx="518.7" cy="1350.7" r="12.5"/><circle cx="535.6" cy="1343.7" r="12.5"/><circle cx="552.3" cy="1337.8" r="12.5"/><circle cx="568.3" cy="1330.4" r="12.5"/><circle cx="583.8" cy="1322.7" r="12.5"/><circle cx="599" cy="1315.8" r="12.5"/><circle cx="613.3" cy="1310.3" r="12.5"/><circle cx="627.2" cy="1304.9" r="12.5"/><circle cx="639.6" cy="1300.4" r="12.5"/><circle cx="651.7" cy="1295.8" r="12.5"/><circle cx="661.6" cy="1292.4" r="12.5"/><circle cx="670.5" cy="1289.8" r="12.5"/></g>
<polyline fill="none" stroke="#FF00FF" stroke-width="3.7" points="393,1801.7 418.6,1538.9 434.9,1482.1 453.1,1446.9 470.9,1424.4 489.1,1409.3 506.6,1395.3 524,1386.3 541.6,1379.8 559.1,1375 575.4,1366.5 591.3,1358.4 606.9,1350.9 621.6,1345.5 635.7,1339.1 648.4,1334.3 660.7,1329.3 670.8,1325.4 679.8,1322.4"/>
<g fill="#7E2F8E"><circle cx="393" cy="1801.7" r="12.5"/><circle cx="418.6" cy="1538.9" r="12.5"/><circle cx="434.9" cy="1482.1" r="12.5"/><circle cx="453.1" cy="1446.9" r="12.5"/><circle cx="470.9" cy="1424.4" r="12.5"/><circle cx="489.1" cy="1409.3" r="12.5"/><circle cx="506.6" cy="1395.3" r="12.5"/><circle cx="524" cy="1386.3" r="12.5"/><circle cx="541.6" cy="1379.8" r="12.5"/><circle cx="559.1" cy="1375" r="12.5"/><circle cx="575.4" cy="1366.5" r="12.5"/><circle cx="591.3" cy="1358.4" r="12.5"/><circle cx="606.9" cy="1350.9" r="12.5"/><circle cx="621.6" cy="1345.5" r="12.5"/><circle cx="635.7" cy="1339.1" r="12.5"/><circle cx="648.4" cy="1334.3" r="12.5"/><circle cx="660.7" cy="1329.3" r="12.5"/><circle cx="670.8" cy="1325.4" r="12.5"/><circle cx="679.8" cy="1322.4" r="12.5"/></g>
<polyline fill="none" stroke="#FF00FF" stroke-width="3.7" points="393,1801.7 420,1560.7 436.8,1509.3 455.9,1478.2 474.5,1456.7 493.5,1442.5 512,1431.1 529.8,1420.9 548.1,1414.4 566.3,1410 583.2,1401.5 599.4,1392.6 615.5,1385.1 630.4,1378.7 644.9,1372.3 657.9,1367.2 670.4,1361.8 680.6,1357.4 689.5,1353.7"/>
<g fill="#7E2F8E"><circle cx="393" cy="1801.7" r="12.5"/><circle cx="420" cy="1560.7" r="12.5"/><circle cx="436.8" cy="1509.3" r="12.5"/><circle cx="455.9" cy="1478.2" r="12.5"/><circle cx="474.5" cy="1456.7" r="12.5"/><circle cx="493.5" cy="1442.5" r="12.5"/><circle cx="512" cy="1431.1" r="12.5"/><circle cx="529.8" cy="1420.9" r="12.5"/><circle cx="548.1" cy="1414.4" r="12.5"/><circle cx="566.3" cy="1410" r="12.5"/><circle cx="583.2" cy="1401.5" r="12.5"/><circle cx="599.4" cy="1392.6" r="12.5"/><circle cx="615.5" cy="1385.1" r="12.5"/><circle cx="630.4" cy="1378.7" r="12.5"/><circle cx="644.9" cy="1372.3" r="12.5"/><circle cx="657.9" cy="1367.2" r="12.5"/><circle cx="670.4" cy="1361.8" r="12.5"/><circle cx="680.6" cy="1357.4" r="12.5"/><circle cx="689.5" cy="1353.7" r="12.5"/></g>
<polyline fill="none" stroke="#FF00FF" stroke-width="3.7" points="393,1801.7 423.9,1607.7 442,1568.5 461.7,1531 481.5,1509 501.2,1491.9 520.8,1480.6 540,1471.9 558.1,1460.1 576.5,1452.2 592.7,1438.9 610.6,1433.6 627.3,1426.2 643,1420.4 658.1,1413.9 671.4,1408.2 684.1,1402.2 694.9,1398.4 703.7,1394.6"/>
<g fill="#7E2F8E"><circle cx="393" cy="1801.7" r="12.5"/><circle cx="423.9" cy="1607.7" r="12.5"/><circle cx="442" cy="1568.5" r="12.5"/><circle cx="461.7" cy="1531" r="12.5"/><circle cx="481.5" cy="1509" r="12.5"/><circle cx="501.2" cy="1491.9" r="12.5"/><circle cx="520.8" cy="1480.6" r="12.5"/><circle cx="540" cy="1471.9" r="12.5"/><circle cx="558.1" cy="1460.1" r="12.5"/><circle cx="576.5" cy="1452.2" r="12.5"/><circle cx="592.7" cy="1438.9" r="12.5"/><circle cx="610.6" cy="1433.6" r="12.5"/><circle cx="627.3" cy="1426.2" r="12.5"/><circle cx="643" cy="1420.4" r="12.5"/><circle cx="658.1" cy="1413.9" r="12.5"/><circle cx="671.4" cy="1408.2" r="12.5"/><circle cx="684.1" cy="1402.2" r="12.5"/><circle cx="694.9" cy="1398.4" r="12.5"/><circle cx="703.7" cy="1394.6" r="12.5"/></g>
<polyline fill="none" stroke="#FF00FF" stroke-width="3.7" points="393,1801.7 432.2,1682 452.1,1641.4 474.7,1610.1 496.2,1586.5 517.1,1566.4 537.2,1549.2 556,1533.4 574.3,1518.3 592.2,1505.1 609.8,1493.8 626.4,1481.7 642.9,1471.4 658.8,1464.2 673.2,1454.5 686.1,1446.9 699.2,1440.5 709.5,1434.8 714.5,1431.7"/>
<g fill="#7E2F8E"><circle cx="393" cy="1801.7" r="12.5"/><circle cx="432.2" cy="1682" r="12.5"/><circle cx="452.1" cy="1641.4" r="12.5"/><circle cx="474.7" cy="1610.1" r="12.5"/><circle cx="496.2" cy="1586.5" r="12.5"/><circle cx="517.1" cy="1566.4" r="12.5"/><circle cx="537.2" cy="1549.2" r="12.5"/><circle cx="556" cy="1533.4" r="12.5"/><circle cx="574.3" cy="1518.3" r="12.5"/><circle cx="592.2" cy="1505.1" r="12.5"/><circle cx="609.8" cy="1493.8" r="12.5"/><circle cx="626.4" cy="1481.7" r="12.5"/><circle cx="642.9" cy="1471.4" r="12.5"/><circle cx="658.8" cy="1464.2" r="12.5"/><circle cx="673.2" cy="1454.5" r="12.5"/><circle cx="686.1" cy="1446.9" r="12.5"/><circle cx="699.2" cy="1440.5" r="12.5"/><circle cx="709.5" cy="1434.8" r="12.5"/><circle cx="714.5" cy="1431.7" r="12.5"/></g>
<polyline fill="none" stroke="#FF00FF" stroke-width="3.7" points="393,1801.7 436.3,1704.9 458.6,1671.4 482.7,1642.8 505.6,1621 527.8,1602.2 548.9,1585.9 568.8,1571.1 588.2,1557.2 607.3,1545.6 626.8,1536.9 644.9,1527.1 661.8,1516.3 676.9,1505.8 691.4,1495.7 704.7,1488 717.8,1480.8 728.7,1475.5 738.2,1471.1"/>
<g fill="#7E2F8E"><circle cx="393" cy="1801.7" r="12.5"/><circle cx="436.3" cy="1704.9" r="12.5"/><circle cx="458.6" cy="1671.4" r="12.5"/><circle cx="482.7" cy="1642.8" r="12.5"/><circle cx="505.6" cy="1621" r="12.5"/><circle cx="527.8" cy="1602.2" r="12.5"/><circle cx="548.9" cy="1585.9" r="12.5"/><circle cx="568.8" cy="1571.1" r="12.5"/><circle cx="588.2" cy="1557.2" r="12.5"/><circle cx="607.3" cy="1545.6" r="12.5"/><circle cx="626.8" cy="1536.9" r="12.5"/><circle cx="644.9" cy="1527.1" r="12.5"/><circle cx="661.8" cy="1516.3" r="12.5"/><circle cx="676.9" cy="1505.8" r="12.5"/><circle cx="691.4" cy="1495.7" r="12.5"/><circle cx="704.7" cy="1488" r="12.5"/><circle cx="717.8" cy="1480.8" r="12.5"/><circle cx="728.7" cy="1475.5" r="12.5"/><circle cx="738.2" cy="1471.1" r="12.5"/></g>
<polyline fill="none" stroke="#FF0000" stroke-width="3.7" points="393,1801.7 451.9,1748.7 474.9,1718.1 500.2,1690.4 524.5,1669.2 547.8,1650.4 569.8,1633.8 590.8,1619.6 611.1,1605.9 631.2,1594.4 650.1,1582.8 668.7,1572.4 686.6,1562.4 702.8,1553.3 718.4,1544.3 732,1536.5 745.5,1529.3 756.8,1524 766.8,1519.7"/>
<g fill="#D40E0E"><circle cx="393" cy="1801.7" r="12.5"/><circle cx="451.9" cy="1748.7" r="12.5"/><circle cx="474.9" cy="1718.1" r="12.5"/><circle cx="500.2" cy="1690.4" r="12.5"/><circle cx="524.5" cy="1669.2" r="12.5"/><circle cx="547.8" cy="1650.4" r="12.5"/><circle cx="569.8" cy="1633.8" r="12.5"/><circle cx="590.8" cy="1619.6" r="12.5"/><circle cx="611.1" cy="1605.9" r="12.5"/><circle cx="631.2" cy="1594.4" r="12.5"/><circle cx="650.1" cy="1582.8" r="12.5"/><circle cx="668.7" cy="1572.4" r="12.5"/><circle cx="686.6" cy="1562.4" r="12.5"/><circle cx="702.8" cy="1553.3" r="12.5"/><circle cx="718.4" cy="1544.3" r="12.5"/><circle cx="732" cy="1536.5" r="12.5"/><circle cx="745.5" cy="1529.3" r="12.5"/><circle cx="756.8" cy="1524" r="12.5"/><circle cx="766.8" cy="1519.7" r="12.5"/></g>
<polyline fill="none" stroke="#FF00FF" stroke-width="3.7" points="393,1801.7 569.4,1794.6 572.1,1784.2 580.8,1765.4 589.2,1742.2 603.1,1719.6 619.8,1699.7 636.2,1681.2 653.6,1664.5 670.4,1648.8 689.5,1637 705.4,1623.1 721.5,1610.6 735.8,1598.8 749.7,1587.5 762.8,1578.7 775.3,1570.1 786.1,1563.9 795.8,1559"/>
<g fill="#7E2F8E"><circle cx="393" cy="1801.7" r="12.5"/><circle cx="569.4" cy="1794.6" r="12.5"/><circle cx="572.1" cy="1784.2" r="12.5"/><circle cx="580.8" cy="1765.4" r="12.5"/><circle cx="589.2" cy="1742.2" r="12.5"/><circle cx="603.1" cy="1719.6" r="12.5"/><circle cx="619.8" cy="1699.7" r="12.5"/><circle cx="636.2" cy="1681.2" r="12.5"/><circle cx="653.6" cy="1664.5" r="12.5"/><circle cx="670.4" cy="1648.8" r="12.5"/><circle cx="689.5" cy="1637" r="12.5"/><circle cx="705.4" cy="1623.1" r="12.5"/><circle cx="721.5" cy="1610.6" r="12.5"/><circle cx="735.8" cy="1598.8" r="12.5"/><circle cx="749.7" cy="1587.5" r="12.5"/><circle cx="762.8" cy="1578.7" r="12.5"/><circle cx="775.3" cy="1570.1" r="12.5"/><circle cx="786.1" cy="1563.9" r="12.5"/><circle cx="795.8" cy="1559" r="12.5"/></g>
<polyline fill="none" stroke="#FF00FF" stroke-width="3.7" points="393,1801.7 575.9,1797.8 589,1787.1 610.5,1774.6 629.3,1760.7 645.8,1745 663.5,1730 680.5,1715.5 697.2,1701.1 713.6,1687.2 729.8,1674.1 745.4,1661.3 760.9,1649.3 774.5,1637.9 789.6,1628.4 802,1619.5 813.8,1610.5 822.8,1602.7 830.7,1595.9"/>
<g fill="#7E2F8E"><circle cx="393" cy="1801.7" r="12.5"/><circle cx="575.9" cy="1797.8" r="12.5"/><circle cx="589" cy="1787.1" r="12.5"/><circle cx="610.5" cy="1774.6" r="12.5"/><circle cx="629.3" cy="1760.7" r="12.5"/><circle cx="645.8" cy="1745" r="12.5"/><circle cx="663.5" cy="1730" r="12.5"/><circle cx="680.5" cy="1715.5" r="12.5"/><circle cx="697.2" cy="1701.1" r="12.5"/><circle cx="713.6" cy="1687.2" r="12.5"/><circle cx="729.8" cy="1674.1" r="12.5"/><circle cx="745.4" cy="1661.3" r="12.5"/><circle cx="760.9" cy="1649.3" r="12.5"/><circle cx="774.5" cy="1637.9" r="12.5"/><circle cx="789.6" cy="1628.4" r="12.5"/><circle cx="802" cy="1619.5" r="12.5"/><circle cx="813.8" cy="1610.5" r="12.5"/><circle cx="822.8" cy="1602.7" r="12.5"/><circle cx="830.7" cy="1595.9" r="12.5"/></g>
<polyline fill="none" stroke="#FF00FF" stroke-width="3.7" points="393,1801.7 586.2,1797.8 619,1790.7 649.5,1782.2 672.1,1772.3 693.5,1761.6 713.5,1750.6 732.7,1740 751,1729 768.9,1718.4 786.1,1708 803.4,1698.2 820.6,1688.9 836.1,1680.3 853.6,1673.2 866.4,1665.6 878.5,1658.1 887.8,1651.6 896.8,1646.4"/>
<g fill="#7E2F8E"><circle cx="393" cy="1801.7" r="12.5"/><circle cx="586.2" cy="1797.8" r="12.5"/><circle cx="619" cy="1790.7" r="12.5"/><circle cx="649.5" cy="1782.2" r="12.5"/><circle cx="672.1" cy="1772.3" r="12.5"/><circle cx="693.5" cy="1761.6" r="12.5"/><circle cx="713.5" cy="1750.6" r="12.5"/><circle cx="732.7" cy="1740" r="12.5"/><circle cx="751" cy="1729" r="12.5"/><circle cx="768.9" cy="1718.4" r="12.5"/><circle cx="786.1" cy="1708" r="12.5"/><circle cx="803.4" cy="1698.2" r="12.5"/><circle cx="820.6" cy="1688.9" r="12.5"/><circle cx="836.1" cy="1680.3" r="12.5"/><circle cx="853.6" cy="1673.2" r="12.5"/><circle cx="866.4" cy="1665.6" r="12.5"/><circle cx="878.5" cy="1658.1" r="12.5"/><circle cx="887.8" cy="1651.6" r="12.5"/><circle cx="896.8" cy="1646.4" r="12.5"/></g>
<polyline fill="none" stroke="#FF00FF" stroke-width="3.7" points="393,1801.7 596.6,1797.8 647.2,1793 693.6,1787.5 732,1781.8 759,1774.6 781.4,1766.9 801.7,1759.1 821.9,1751.1 839.7,1742.7 856.3,1734.3 871.8,1725.7 886.7,1717.1 900.4,1709.1 913.1,1700.9 925.3,1694.1 939.2,1688.2 947.8,1682.3 955,1676.9"/>
<g fill="#7E2F8E"><circle cx="393" cy="1801.7" r="12.5"/><circle cx="596.6" cy="1797.8" r="12.5"/><circle cx="647.2" cy="1793" r="12.5"/><circle cx="693.6" cy="1787.5" r="12.5"/><circle cx="732" cy="1781.8" r="12.5"/><circle cx="759" cy="1774.6" r="12.5"/><circle cx="781.4" cy="1766.9" r="12.5"/><circle cx="801.7" cy="1759.1" r="12.5"/><circle cx="821.9" cy="1751.1" r="12.5"/><circle cx="839.7" cy="1742.7" r="12.5"/><circle cx="856.3" cy="1734.3" r="12.5"/><circle cx="871.8" cy="1725.7" r="12.5"/><circle cx="886.7" cy="1717.1" r="12.5"/><circle cx="900.4" cy="1709.1" r="12.5"/><circle cx="913.1" cy="1700.9" r="12.5"/><circle cx="925.3" cy="1694.1" r="12.5"/><circle cx="939.2" cy="1688.2" r="12.5"/><circle cx="947.8" cy="1682.3" r="12.5"/><circle cx="955" cy="1676.9" r="12.5"/></g>
<polyline fill="none" stroke="#FF00FF" stroke-width="3.7" points="393,1801.7 606.9,1797.8 669.2,1794.3 730.2,1790.4 775.2,1786 809.8,1780.8 840.3,1775.5 866.5,1769.9 889.9,1764 912.5,1758.1 932.2,1751.9 950.7,1745.7 968.2,1739.4 983.4,1733.3 999.1,1727.5 1012.3,1722.2 1025.9,1717.2 1038.4,1713.5 1046.8,1709.5"/>
<g fill="#7E2F8E"><circle cx="393" cy="1801.7" r="12.5"/><circle cx="606.9" cy="1797.8" r="12.5"/><circle cx="669.2" cy="1794.3" r="12.5"/><circle cx="730.2" cy="1790.4" r="12.5"/><circle cx="775.2" cy="1786" r="12.5"/><circle cx="809.8" cy="1780.8" r="12.5"/><circle cx="840.3" cy="1775.5" r="12.5"/><circle cx="866.5" cy="1769.9" r="12.5"/><circle cx="889.9" cy="1764" r="12.5"/><circle cx="912.5" cy="1758.1" r="12.5"/><circle cx="932.2" cy="1751.9" r="12.5"/><circle cx="950.7" cy="1745.7" r="12.5"/><circle cx="968.2" cy="1739.4" r="12.5"/><circle cx="983.4" cy="1733.3" r="12.5"/><circle cx="999.1" cy="1727.5" r="12.5"/><circle cx="1012.3" cy="1722.2" r="12.5"/><circle cx="1025.9" cy="1717.2" r="12.5"/><circle cx="1038.4" cy="1713.5" r="12.5"/><circle cx="1046.8" cy="1709.5" r="12.5"/></g>
<polyline fill="none" stroke="#FF00FF" stroke-width="3.7" points="393,1801.7 617.3,1798.2 664,1794.1 745,1791.4 806,1788.3 854.6,1784.7 891.5,1780.6 922.2,1776.3 951,1771.8 976.5,1767.1 998.9,1762.3 1018.8,1757.2 1039.2,1752.3 1055,1747.3 1070.8,1742.4 1084.3,1737.9 1097.2,1733.4 1110.9,1730.4 1122,1727.5"/>
<g fill="#7E2F8E"><circle cx="393" cy="1801.7" r="12.5"/><circle cx="617.3" cy="1798.2" r="12.5"/><circle cx="664" cy="1794.1" r="12.5"/><circle cx="745" cy="1791.4" r="12.5"/><circle cx="806" cy="1788.3" r="12.5"/><circle cx="854.6" cy="1784.7" r="12.5"/><circle cx="891.5" cy="1780.6" r="12.5"/><circle cx="922.2" cy="1776.3" r="12.5"/><circle cx="951" cy="1771.8" r="12.5"/><circle cx="976.5" cy="1767.1" r="12.5"/><circle cx="998.9" cy="1762.3" r="12.5"/><circle cx="1018.8" cy="1757.2" r="12.5"/><circle cx="1039.2" cy="1752.3" r="12.5"/><circle cx="1055" cy="1747.3" r="12.5"/><circle cx="1070.8" cy="1742.4" r="12.5"/><circle cx="1084.3" cy="1737.9" r="12.5"/><circle cx="1097.2" cy="1733.4" r="12.5"/><circle cx="1110.9" cy="1730.4" r="12.5"/><circle cx="1122" cy="1727.5" r="12.5"/></g>
<polyline fill="none" stroke="#FF00FF" stroke-width="3.7" points="393,1801.7 627.7,1798.2 693.6,1795.5 787,1793.5 858.4,1791.1 917.8,1788.5 959.5,1785.3 999.1,1782.3 1029.7,1778.7 1058.5,1775.1 1084.2,1771.4 1105.7,1767.4 1127.4,1763.5 1145.9,1759.6 1164.1,1755.9 1178.3,1752.3 1193.1,1748.8 1206.2,1746.1 1215.7,1743.5"/>
<g fill="#7E2F8E"><circle cx="393" cy="1801.7" r="12.5"/><circle cx="627.7" cy="1798.2" r="12.5"/><circle cx="693.6" cy="1795.5" r="12.5"/><circle cx="787" cy="1793.5" r="12.5"/><circle cx="858.4" cy="1791.1" r="12.5"/><circle cx="917.8" cy="1788.5" r="12.5"/><circle cx="959.5" cy="1785.3" r="12.5"/><circle cx="999.1" cy="1782.3" r="12.5"/><circle cx="1029.7" cy="1778.7" r="12.5"/><circle cx="1058.5" cy="1775.1" r="12.5"/><circle cx="1084.2" cy="1771.4" r="12.5"/><circle cx="1105.7" cy="1767.4" r="12.5"/><circle cx="1127.4" cy="1763.5" r="12.5"/><circle cx="1145.9" cy="1759.6" r="12.5"/><circle cx="1164.1" cy="1755.9" r="12.5"/><circle cx="1178.3" cy="1752.3" r="12.5"/><circle cx="1193.1" cy="1748.8" r="12.5"/><circle cx="1206.2" cy="1746.1" r="12.5"/><circle cx="1215.7" cy="1743.5" r="12.5"/></g>
<polyline fill="none" stroke="#FF00FF" stroke-width="3.7" points="393,1801.7 638,1798.2 694.6,1795.5 798,1793.9 880.7,1792.1 949.6,1790 1006.4,1787.8 1052.2,1785.3 1094.8,1782.8 1127,1779.9 1159.9,1777.1 1186.5,1774 1211.9,1771 1232.7,1767.9 1253,1764.9 1270.8,1762.1 1286.2,1759.3 1299.6,1757 1309.8,1754.8"/>
<g fill="#7E2F8E"><circle cx="393" cy="1801.7" r="12.5"/><circle cx="638" cy="1798.2" r="12.5"/><circle cx="694.6" cy="1795.5" r="12.5"/><circle cx="798" cy="1793.9" r="12.5"/><circle cx="880.7" cy="1792.1" r="12.5"/><circle cx="949.6" cy="1790" r="12.5"/><circle cx="1006.4" cy="1787.8" r="12.5"/><circle cx="1052.2" cy="1785.3" r="12.5"/><circle cx="1094.8" cy="1782.8" r="12.5"/><circle cx="1127" cy="1779.9" r="12.5"/><circle cx="1159.9" cy="1777.1" r="12.5"/><circle cx="1186.5" cy="1774" r="12.5"/><circle cx="1211.9" cy="1771" r="12.5"/><circle cx="1232.7" cy="1767.9" r="12.5"/><circle cx="1253" cy="1764.9" r="12.5"/><circle cx="1270.8" cy="1762.1" r="12.5"/><circle cx="1286.2" cy="1759.3" r="12.5"/><circle cx="1299.6" cy="1757" r="12.5"/><circle cx="1309.8" cy="1754.8" r="12.5"/></g>
<polyline fill="none" stroke="#FF00FF" stroke-width="3.7" points="393,1801.7 648.4,1798.2 710.7,1796.1 824.2,1794.8 916.8,1793.3 995.2,1791.7 1060.5,1789.9 1115.2,1788 1164.8,1786.1 1204.2,1783.8 1237.7,1781.4 1271.5,1779.1 1302.5,1776.8 1328.4,1774.5 1351.3,1772 1369.9,1769.8 1389.2,1767.6 1404.8,1765.8 1416.2,1764.1"/>
<g fill="#7E2F8E"><circle cx="393" cy="1801.7" r="12.5"/><circle cx="648.4" cy="1798.2" r="12.5"/><circle cx="710.7" cy="1796.1" r="12.5"/><circle cx="824.2" cy="1794.8" r="12.5"/><circle cx="916.8" cy="1793.3" r="12.5"/><circle cx="995.2" cy="1791.7" r="12.5"/><circle cx="1060.5" cy="1789.9" r="12.5"/><circle cx="1115.2" cy="1788" r="12.5"/><circle cx="1164.8" cy="1786.1" r="12.5"/><circle cx="1204.2" cy="1783.8" r="12.5"/><circle cx="1237.7" cy="1781.4" r="12.5"/><circle cx="1271.5" cy="1779.1" r="12.5"/><circle cx="1302.5" cy="1776.8" r="12.5"/><circle cx="1328.4" cy="1774.5" r="12.5"/><circle cx="1351.3" cy="1772" r="12.5"/><circle cx="1369.9" cy="1769.8" r="12.5"/><circle cx="1389.2" cy="1767.6" r="12.5"/><circle cx="1404.8" cy="1765.8" r="12.5"/><circle cx="1416.2" cy="1764.1" r="12.5"/></g>
<polyline fill="none" stroke="#FF00FF" stroke-width="3.7" points="393,1801.7 658.7,1798.2 729.3,1796.7 853.8,1795.7 957.1,1794.5 1045.8,1793.2 1120.7,1791.8 1180.8,1790.2 1241.1,1788.8 1292.7,1787.2 1330.6,1785.2 1368.2,1783.4 1403.2,1781.5 1430.7,1779.6 1462.6,1777.9 1483.7,1776.1 1506.2,1774.4 1527,1773.1 1541.5,1771.8"/>
<g fill="#7E2F8E"><circle cx="393" cy="1801.7" r="12.5"/><circle cx="658.7" cy="1798.2" r="12.5"/><circle cx="729.3" cy="1796.7" r="12.5"/><circle cx="853.8" cy="1795.7" r="12.5"/><circle cx="957.1" cy="1794.5" r="12.5"/><circle cx="1045.8" cy="1793.2" r="12.5"/><circle cx="1120.7" cy="1791.8" r="12.5"/><circle cx="1180.8" cy="1790.2" r="12.5"/><circle cx="1241.1" cy="1788.8" r="12.5"/><circle cx="1292.7" cy="1787.2" r="12.5"/><circle cx="1330.6" cy="1785.2" r="12.5"/><circle cx="1368.2" cy="1783.4" r="12.5"/><circle cx="1403.2" cy="1781.5" r="12.5"/><circle cx="1430.7" cy="1779.6" r="12.5"/><circle cx="1462.6" cy="1777.9" r="12.5"/><circle cx="1483.7" cy="1776.1" r="12.5"/><circle cx="1506.2" cy="1774.4" r="12.5"/><circle cx="1527" cy="1773.1" r="12.5"/><circle cx="1541.5" cy="1771.8" r="12.5"/></g>
<polyline fill="none" stroke="#FF00FF" stroke-width="3.7" points="393,1801.7 669.1,1798.2 747.7,1797.2 884.3,1796.4 999.9,1795.5 1101,1794.5 1187.7,1793.4 1258.9,1792.2 1331.3,1791.1 1385.6,1789.8 1437.1,1788.4 1482.4,1787 1526.4,1785.6 1562.7,1784.3 1596.5,1782.9 1622.6,1781.5 1650.8,1780.3 1671,1779.2 1691.4,1778.3"/>
<g fill="#7E2F8E"><circle cx="393" cy="1801.7" r="12.5"/><circle cx="669.1" cy="1798.2" r="12.5"/><circle cx="747.7" cy="1797.2" r="12.5"/><circle cx="884.3" cy="1796.4" r="12.5"/><circle cx="999.9" cy="1795.5" r="12.5"/><circle cx="1101" cy="1794.5" r="12.5"/><circle cx="1187.7" cy="1793.4" r="12.5"/><circle cx="1258.9" cy="1792.2" r="12.5"/><circle cx="1331.3" cy="1791.1" r="12.5"/><circle cx="1385.6" cy="1789.8" r="12.5"/><circle cx="1437.1" cy="1788.4" r="12.5"/><circle cx="1482.4" cy="1787" r="12.5"/><circle cx="1526.4" cy="1785.6" r="12.5"/><circle cx="1562.7" cy="1784.3" r="12.5"/><circle cx="1596.5" cy="1782.9" r="12.5"/><circle cx="1622.6" cy="1781.5" r="12.5"/><circle cx="1650.8" cy="1780.3" r="12.5"/><circle cx="1671" cy="1779.2" r="12.5"/><circle cx="1691.4" cy="1778.3" r="12.5"/></g>
<polyline fill="none" stroke="#FF00FF" stroke-width="3.7" points="393,1801.7 679.4,1798.2 752.3,1797.4 896.9,1796.7 1022.1,1795.9 1133.8,1795.1 1231.2,1794.2 1315.8,1793.3 1392.4,1792.4 1460.7,1791.4 1521.8,1790.3 1576.9,1789.3 1626.8,1788.2 1669.8,1787.1 1709.2,1786 1742,1784.9 1772.4,1783.9 1796.1,1783 1816.1,1782.2"/>
<g fill="#7E2F8E"><circle cx="393" cy="1801.7" r="12.5"/><circle cx="679.4" cy="1798.2" r="12.5"/><circle cx="752.3" cy="1797.4" r="12.5"/><circle cx="896.9" cy="1796.7" r="12.5"/><circle cx="1022.1" cy="1795.9" r="12.5"/><circle cx="1133.8" cy="1795.1" r="12.5"/><circle cx="1231.2" cy="1794.2" r="12.5"/><circle cx="1315.8" cy="1793.3" r="12.5"/><circle cx="1392.4" cy="1792.4" r="12.5"/><circle cx="1460.7" cy="1791.4" r="12.5"/><circle cx="1521.8" cy="1790.3" r="12.5"/><circle cx="1576.9" cy="1789.3" r="12.5"/><circle cx="1626.8" cy="1788.2" r="12.5"/><circle cx="1669.8" cy="1787.1" r="12.5"/><circle cx="1709.2" cy="1786" r="12.5"/><circle cx="1742" cy="1784.9" r="12.5"/><circle cx="1772.4" cy="1783.9" r="12.5"/><circle cx="1796.1" cy="1783" r="12.5"/><circle cx="1816.1" cy="1782.2" r="12.5"/></g>
<polyline fill="none" stroke="#FF00FF" stroke-width="3.7" points="393,1801.7 689.8,1798.2 759.2,1797.5 910.7,1796.9 1043.8,1796.3 1164.1,1795.6 1270.1,1794.9 1363.2,1794.1 1448.3,1793.3 1524.6,1792.5 1593.6,1791.7 1656.1,1790.8 1713,1789.9 1762.3,1789 1807.7,1788.1 1845.7,1787.3 1881.1,1786.4 1908.7,1785.7 1932,1785.1"/>
<g fill="#7E2F8E"><circle cx="393" cy="1801.7" r="12.5"/><circle cx="689.8" cy="1798.2" r="12.5"/><circle cx="759.2" cy="1797.5" r="12.5"/><circle cx="910.7" cy="1796.9" r="12.5"/><circle cx="1043.8" cy="1796.3" r="12.5"/><circle cx="1164.1" cy="1795.6" r="12.5"/><circle cx="1270.1" cy="1794.9" r="12.5"/><circle cx="1363.2" cy="1794.1" r="12.5"/><circle cx="1448.3" cy="1793.3" r="12.5"/><circle cx="1524.6" cy="1792.5" r="12.5"/><circle cx="1593.6" cy="1791.7" r="12.5"/><circle cx="1656.1" cy="1790.8" r="12.5"/><circle cx="1713" cy="1789.9" r="12.5"/><circle cx="1762.3" cy="1789" r="12.5"/><circle cx="1807.7" cy="1788.1" r="12.5"/><circle cx="1845.7" cy="1787.3" r="12.5"/><circle cx="1881.1" cy="1786.4" r="12.5"/><circle cx="1908.7" cy="1785.7" r="12.5"/><circle cx="1932" cy="1785.1" r="12.5"/></g>
<polyline fill="none" stroke="#FF00FF" stroke-width="3.7" points="393,1801.7 700.1,1798.2 766.4,1797.7 925.1,1797.2 1066.8,1796.7 1196.6,1796.1 1312.4,1795.5 1415.3,1794.9 1510.2,1794.2 1596.1,1793.6 1674.3,1792.9 1745.8,1792.2 1811.3,1791.4 1868.4,1790.7 1921.2,1790 1965.6,1789.4 2007.1,1788.7 2039.7,1788.1 2067.3,1787.6"/>
<g fill="#7E2F8E"><circle cx="393" cy="1801.7" r="12.5"/><circle cx="700.1" cy="1798.2" r="12.5"/><circle cx="766.4" cy="1797.7" r="12.5"/><circle cx="925.1" cy="1797.2" r="12.5"/><circle cx="1066.8" cy="1796.7" r="12.5"/><circle cx="1196.6" cy="1796.1" r="12.5"/><circle cx="1312.4" cy="1795.5" r="12.5"/><circle cx="1415.3" cy="1794.9" r="12.5"/><circle cx="1510.2" cy="1794.2" r="12.5"/><circle cx="1596.1" cy="1793.6" r="12.5"/><circle cx="1674.3" cy="1792.9" r="12.5"/><circle cx="1745.8" cy="1792.2" r="12.5"/><circle cx="1811.3" cy="1791.4" r="12.5"/><circle cx="1868.4" cy="1790.7" r="12.5"/><circle cx="1921.2" cy="1790" r="12.5"/><circle cx="1965.6" cy="1789.4" r="12.5"/><circle cx="2007.1" cy="1788.7" r="12.5"/><circle cx="2039.7" cy="1788.1" r="12.5"/><circle cx="2067.3" cy="1787.6" r="12.5"/></g>
<polyline fill="none" stroke="#FF00FF" stroke-width="3.7" points="393,1801.7 710.5,1798.2 773.9,1797.8 940.6,1797.4 1091.8,1797 1232.3,1796.6 1359.5,1796.1 1473.8,1795.6 1580.4,1795.1 1677.9,1794.6 1767.6,1794 1850.2,1793.5 1926.5,1792.9 1993.4,1792.4 2055.8,1791.8 2108.5,1791.3 2158,1790.8 2197,1790.4 2230.2,1790"/>
<g fill="#7E2F8E"><circle cx="393" cy="1801.7" r="12.5"/><circle cx="710.5" cy="1798.2" r="12.5"/><circle cx="773.9" cy="1797.8" r="12.5"/><circle cx="940.6" cy="1797.4" r="12.5"/><circle cx="1091.8" cy="1797" r="12.5"/><circle cx="1232.3" cy="1796.6" r="12.5"/><circle cx="1359.5" cy="1796.1" r="12.5"/><circle cx="1473.8" cy="1795.6" r="12.5"/><circle cx="1580.4" cy="1795.1" r="12.5"/><circle cx="1677.9" cy="1794.6" r="12.5"/><circle cx="1767.6" cy="1794" r="12.5"/><circle cx="1850.2" cy="1793.5" r="12.5"/><circle cx="1926.5" cy="1792.9" r="12.5"/><circle cx="1993.4" cy="1792.4" r="12.5"/><circle cx="2055.8" cy="1791.8" r="12.5"/><circle cx="2108.5" cy="1791.3" r="12.5"/><circle cx="2158" cy="1790.8" r="12.5"/><circle cx="2197" cy="1790.4" r="12.5"/><circle cx="2230.2" cy="1790" r="12.5"/></g>
</g>
<path d="M644.5,266 C644.7,274.3 645.3,299.3 645.5,315.9 C645.7,332.5 645.7,349.1 645.8,365.7 C645.9,382.3 645.9,399 646,415.6 C646.1,432.2 646.1,448.8 646.3,465.4 C646.5,482 646.8,498.7 647.3,515.3 C647.8,531.9 648.3,548.5 649.1,565.1 C649.9,581.7 650.9,598.4 652.2,615 C653.5,631.6 654.9,648.3 656.7,664.9 C658.5,681.5 660.6,698.1 663.1,714.7 C665.6,731.3 668.4,748 671.6,764.6 C674.8,781.2 678.3,797.8 682.3,814.4 C686.3,831 690.7,847.7 695.5,864.3 C700.3,880.9 705.5,897.5 711.3,914.1 C717,930.7 726.9,955.7 730,964" fill="none" stroke="#000" stroke-width="4"/>
<polygon fill="#000" points="741.5,996.8 717.7,962.9 737.6,955.6"/>
<path d="M788.3,1102.9 C791.4,1110.2 800.6,1132.1 806.9,1146.6 C813.2,1161 819.6,1175.4 826.2,1189.6 C832.9,1203.8 839.7,1218 846.8,1232 C853.9,1246 861.3,1260 869,1273.7 C876.7,1287.4 884.7,1301 893.1,1314.3 C901.5,1327.6 910.1,1340.9 919.2,1353.8 C928.3,1366.7 937.7,1379.4 947.5,1391.8 C957.3,1404.2 967.4,1416.3 977.9,1428.1 C988.4,1439.9 999.2,1451.4 1010.4,1462.5 C1021.6,1473.6 1033.1,1484.5 1044.9,1494.9 C1056.7,1505.3 1068.9,1515.3 1081.3,1525 C1093.7,1534.7 1106.5,1544 1119.5,1552.9 C1132.5,1561.8 1145.8,1570.3 1159.3,1578.4 C1172.8,1586.5 1186.5,1594.2 1200.4,1601.6 C1214.3,1609 1228.4,1615.9 1242.7,1622.6 C1257,1629.2 1271.4,1635.5 1286,1641.5 C1300.6,1647.5 1315.3,1653.1 1330.1,1658.4 C1344.9,1663.7 1359.9,1668.8 1374.9,1673.5 C1389.9,1678.2 1405.1,1682.7 1420.3,1686.9 C1435.5,1691.1 1450.8,1695 1466.1,1698.7 C1481.4,1702.4 1496.7,1705.9 1512.1,1709.2 C1527.5,1712.5 1543,1715.5 1558.5,1718.4 C1574,1721.3 1589.5,1724 1605,1726.5 C1620.5,1729 1636.1,1731.3 1651.7,1733.5 C1667.3,1735.7 1682.9,1737.7 1698.6,1739.5 C1714.2,1741.3 1729.9,1743 1745.6,1744.6 C1761.3,1746.1 1777,1747.6 1792.7,1748.8 C1808.4,1750 1824.1,1751.1 1839.8,1752 C1855.5,1752.9 1879.1,1754 1887,1754.4" fill="none" stroke="#000" stroke-width="4"/>
<polygon fill="#000" points="1924.8,1755.9 1884.9,1765.2 1885.6,1744"/>
<text x="841.9" y="2074" font-size="148" textLength="1173.6">μ<tspan font-size="100" dy="40">0</tspan><tspan dy="-40">H/M(T/Am</tspan><tspan font-size="100" dy="-60">2</tspan><tspan dy="60">kg</tspan><tspan font-size="100" dy="-60">−1</tspan><tspan dy="60">)</tspan></text>
<text transform="translate(176,1454.1) rotate(-90)" font-size="167" textLength="1177.5">10<tspan font-size="112" dy="-68">3</tspan><tspan dy="68">.M</tspan><tspan font-size="112" dy="-68">2</tspan><tspan dy="68">(Am</tspan><tspan font-size="112" dy="-68">2</tspan><tspan dy="68">kg</tspan><tspan font-size="112" dy="-68">−1</tspan><tspan dy="68">)</tspan></text>
<text x="592.1" y="262" font-size="116" textLength="267.3" lengthAdjust="spacingAndGlyphs">310K</text>
<text x="609.6" y="638.4" font-size="83" textLength="195.3" lengthAdjust="spacingAndGlyphs">+10K</text>
<text x="658.9" y="1068" font-size="86" textLength="197.2" lengthAdjust="spacingAndGlyphs">480K</text>
<text x="1393.5" y="1662.5" font-size="84" textLength="155.3" lengthAdjust="spacingAndGlyphs">+5K</text>
<text x="1972.6" y="1752.7" font-size="117" textLength="266.8" lengthAdjust="spacingAndGlyphs">620K</text>
<rect x="1053.5" y="108" width="1348.5" height="1177" fill="none" stroke="#000" stroke-width="6.5"/>
<line x1="1053.5" y1="1285" x2="1053.5" y2="1306.2" stroke="#000" stroke-width="6.5"/>
<text x="1053.5" y="1372" font-size="68" text-anchor="middle">0.00</text>
<line x1="1323.2" y1="1285" x2="1323.2" y2="1306.2" stroke="#000" stroke-width="6.5"/>
<text x="1323.2" y="1372" font-size="68" text-anchor="middle">0.02</text>
<line x1="1592.9" y1="1285" x2="1592.9" y2="1306.2" stroke="#000" stroke-width="6.5"/>
<text x="1592.9" y="1372" font-size="68" text-anchor="middle">0.04</text>
<line x1="1862.6" y1="1285" x2="1862.6" y2="1306.2" stroke="#000" stroke-width="6.5"/>
<text x="1862.6" y="1372" font-size="68" text-anchor="middle">0.06</text>
<line x1="2132.3" y1="1285" x2="2132.3" y2="1306.2" stroke="#000" stroke-width="6.5"/>
<text x="2132.3" y="1372" font-size="68" text-anchor="middle">0.08</text>
<line x1="2402" y1="1285" x2="2402" y2="1306.2" stroke="#000" stroke-width="6.5"/>
<text x="2402" y="1372" font-size="68" text-anchor="middle">0.10</text>
<line x1="1053.5" y1="1285" x2="1033.8" y2="1285" stroke="#000" stroke-width="6.5"/>
<text x="1020.5" y="1305" font-size="68" text-anchor="end">0</text>
<line x1="1053.5" y1="990.8" x2="1033.8" y2="990.8" stroke="#000" stroke-width="6.5"/>
<text x="1020.5" y="1010.8" font-size="68" text-anchor="end">2</text>
<line x1="1053.5" y1="696.6" x2="1033.8" y2="696.6" stroke="#000" stroke-width="6.5"/>
<text x="1020.5" y="716.6" font-size="68" text-anchor="end">4</text>
<line x1="1053.5" y1="402.4" x2="1033.8" y2="402.4" stroke="#000" stroke-width="6.5"/>
<text x="1020.5" y="422.4" font-size="68" text-anchor="end">6</text>
<line x1="1053.5" y1="108.2" x2="1033.8" y2="108.2" stroke="#000" stroke-width="6.5"/>
<text x="1020.5" y="128.2" font-size="68" text-anchor="end">8</text>
<g clip-path="url(#ci)">
<polyline fill="none" stroke="#555555" stroke-width="2.6" points="1053.5,1285 1074.7,676.5 1088.3,536.7 1103.3,452.3 1118.2,401.2 1133.4,367.3 1148.3,342.4 1163,324.2 1177.7,309.9 1192.3,298.2 1206.7,288.1 1220.8,278.5 1234.7,270.5 1247.7,263.7 1260.5,257.7 1272.1,253.7 1283.3,249.4 1292.6,245.9 1300.8,243.8"/>
<g fill="#7E2F8E"><circle cx="1053.5" cy="1285" r="8"/><circle cx="1074.7" cy="676.5" r="8"/><circle cx="1088.3" cy="536.7" r="8"/><circle cx="1103.3" cy="452.3" r="8"/><circle cx="1118.2" cy="401.2" r="8"/><circle cx="1133.4" cy="367.3" r="8"/><circle cx="1148.3" cy="342.4" r="8"/><circle cx="1163" cy="324.2" r="8"/><circle cx="1177.7" cy="309.9" r="8"/><circle cx="1192.3" cy="298.2" r="8"/><circle cx="1206.7" cy="288.1" r="8"/><circle cx="1220.8" cy="278.5" r="8"/><circle cx="1234.7" cy="270.5" r="8"/><circle cx="1247.7" cy="263.7" r="8"/><circle cx="1260.5" cy="257.7" r="8"/><circle cx="1272.1" cy="253.7" r="8"/><circle cx="1283.3" cy="249.4" r="8"/><circle cx="1292.6" cy="245.9" r="8"/><circle cx="1300.8" cy="243.8" r="8"/></g>
<polyline fill="none" stroke="#555555" stroke-width="2.6" points="1053.5,1285 1075.9,720.2 1089.7,593.2 1105.2,513 1120.8,466.5 1136.5,434.6 1152,410.7 1167,391.7 1182.3,378.6 1197.5,368.1 1212.2,356.8 1226.7,346.6 1241,336.9 1254.3,329.4 1267.4,322.2 1279,316.3 1290.4,310.2 1299.9,306.5 1308.3,303.7"/>
<g fill="#7E2F8E"><circle cx="1053.5" cy="1285" r="8"/><circle cx="1075.9" cy="720.2" r="8"/><circle cx="1089.7" cy="593.2" r="8"/><circle cx="1105.2" cy="513" r="8"/><circle cx="1120.8" cy="466.5" r="8"/><circle cx="1136.5" cy="434.6" r="8"/><circle cx="1152" cy="410.7" r="8"/><circle cx="1167" cy="391.7" r="8"/><circle cx="1182.3" cy="378.6" r="8"/><circle cx="1197.5" cy="368.1" r="8"/><circle cx="1212.2" cy="356.8" r="8"/><circle cx="1226.7" cy="346.6" r="8"/><circle cx="1241" cy="336.9" r="8"/><circle cx="1254.3" cy="329.4" r="8"/><circle cx="1267.4" cy="322.2" r="8"/><circle cx="1279" cy="316.3" r="8"/><circle cx="1290.4" cy="310.2" r="8"/><circle cx="1299.9" cy="306.5" r="8"/><circle cx="1308.3" cy="303.7" r="8"/></g>
<polyline fill="none" stroke="#555555" stroke-width="2.6" points="1053.5,1285 1076.3,761.7 1091.1,645 1107.4,574.2 1123.5,529.2 1139.9,499.3 1155.9,476.7 1171.6,459.1 1187.4,445.4 1203.1,435.6 1218.2,422.9 1232.9,410.5 1247.5,400.2 1261.2,392.2 1274.6,384 1286.4,377.1 1298,370 1307.6,365.3 1316.1,361.8"/>
<g fill="#7E2F8E"><circle cx="1053.5" cy="1285" r="8"/><circle cx="1076.3" cy="761.7" r="8"/><circle cx="1091.1" cy="645" r="8"/><circle cx="1107.4" cy="574.2" r="8"/><circle cx="1123.5" cy="529.2" r="8"/><circle cx="1139.9" cy="499.3" r="8"/><circle cx="1155.9" cy="476.7" r="8"/><circle cx="1171.6" cy="459.1" r="8"/><circle cx="1187.4" cy="445.4" r="8"/><circle cx="1203.1" cy="435.6" r="8"/><circle cx="1218.2" cy="422.9" r="8"/><circle cx="1232.9" cy="410.5" r="8"/><circle cx="1247.5" cy="400.2" r="8"/><circle cx="1261.2" cy="392.2" r="8"/><circle cx="1274.6" cy="384" r="8"/><circle cx="1286.4" cy="377.1" r="8"/><circle cx="1298" cy="370" r="8"/><circle cx="1307.6" cy="365.3" r="8"/><circle cx="1316.1" cy="361.8" r="8"/></g>
<polyline fill="none" stroke="#555555" stroke-width="2.6" points="1053.5,1285 1077.6,802 1092.7,695.5 1109.8,632 1126.5,589.5 1143.5,560.9 1160.1,538.2 1176.3,521.5 1192.8,509.7 1209.1,499.8 1224.7,487.3 1239.9,474.2 1254.8,462.4 1268.7,453.1 1282.3,444.1 1294.4,436.4 1306.2,428.7 1315.9,422.8 1324.6,418.5"/>
<g fill="#7E2F8E"><circle cx="1053.5" cy="1285" r="8"/><circle cx="1077.6" cy="802" r="8"/><circle cx="1092.7" cy="695.5" r="8"/><circle cx="1109.8" cy="632" r="8"/><circle cx="1126.5" cy="589.5" r="8"/><circle cx="1143.5" cy="560.9" r="8"/><circle cx="1160.1" cy="538.2" r="8"/><circle cx="1176.3" cy="521.5" r="8"/><circle cx="1192.8" cy="509.7" r="8"/><circle cx="1209.1" cy="499.8" r="8"/><circle cx="1224.7" cy="487.3" r="8"/><circle cx="1239.9" cy="474.2" r="8"/><circle cx="1254.8" cy="462.4" r="8"/><circle cx="1268.7" cy="453.1" r="8"/><circle cx="1282.3" cy="444.1" r="8"/><circle cx="1294.4" cy="436.4" r="8"/><circle cx="1306.2" cy="428.7" r="8"/><circle cx="1315.9" cy="422.8" r="8"/><circle cx="1324.6" cy="418.5" r="8"/></g>
<polyline fill="none" stroke="#555555" stroke-width="2.6" points="1053.5,1285 1078.5,840.1 1094.4,744 1112.2,684.3 1129.6,646.3 1147.4,620.7 1164.5,597.1 1181.5,581.9 1198.7,570.9 1215.7,562.8 1231.7,548.4 1247.2,534.5 1262.4,521.9 1276.8,512.8 1290.6,502 1303,493.8 1315.1,485.4 1324.9,478.8 1333.7,473.6"/>
<g fill="#7E2F8E"><circle cx="1053.5" cy="1285" r="8"/><circle cx="1078.5" cy="840.1" r="8"/><circle cx="1094.4" cy="744" r="8"/><circle cx="1112.2" cy="684.3" r="8"/><circle cx="1129.6" cy="646.3" r="8"/><circle cx="1147.4" cy="620.7" r="8"/><circle cx="1164.5" cy="597.1" r="8"/><circle cx="1181.5" cy="581.9" r="8"/><circle cx="1198.7" cy="570.9" r="8"/><circle cx="1215.7" cy="562.8" r="8"/><circle cx="1231.7" cy="548.4" r="8"/><circle cx="1247.2" cy="534.5" r="8"/><circle cx="1262.4" cy="521.9" r="8"/><circle cx="1276.8" cy="512.8" r="8"/><circle cx="1290.6" cy="502" r="8"/><circle cx="1303" cy="493.8" r="8"/><circle cx="1315.1" cy="485.4" r="8"/><circle cx="1324.9" cy="478.8" r="8"/><circle cx="1333.7" cy="473.6" r="8"/></g>
<polyline fill="none" stroke="#555555" stroke-width="2.6" points="1053.5,1285 1079.9,877.1 1096.3,790.1 1114.9,737.4 1133.1,701 1151.7,676.9 1169.8,657.7 1187.1,640.4 1205,629.4 1222.8,621.9 1239.3,607.6 1255.1,592.5 1270.9,579.8 1285.4,568.9 1299.6,558.1 1312.3,549.6 1324.5,540.4 1334.5,533 1343.2,526.7"/>
<g fill="#7E2F8E"><circle cx="1053.5" cy="1285" r="8"/><circle cx="1079.9" cy="877.1" r="8"/><circle cx="1096.3" cy="790.1" r="8"/><circle cx="1114.9" cy="737.4" r="8"/><circle cx="1133.1" cy="701" r="8"/><circle cx="1151.7" cy="676.9" r="8"/><circle cx="1169.8" cy="657.7" r="8"/><circle cx="1187.1" cy="640.4" r="8"/><circle cx="1205" cy="629.4" r="8"/><circle cx="1222.8" cy="621.9" r="8"/><circle cx="1239.3" cy="607.6" r="8"/><circle cx="1255.1" cy="592.5" r="8"/><circle cx="1270.9" cy="579.8" r="8"/><circle cx="1285.4" cy="568.9" r="8"/><circle cx="1299.6" cy="558.1" r="8"/><circle cx="1312.3" cy="549.6" r="8"/><circle cx="1324.5" cy="540.4" r="8"/><circle cx="1334.5" cy="533" r="8"/><circle cx="1343.2" cy="526.7" r="8"/></g>
<polyline fill="none" stroke="#555555" stroke-width="2.6" points="1053.5,1285 1083.7,956.6 1101.4,890.3 1120.7,826.7 1139.9,789.5 1159.2,760.6 1178.4,741.4 1197.1,726.7 1214.8,706.8 1232.7,693.3 1248.6,670.8 1266.1,661.8 1282.4,649.4 1297.8,639.5 1312.5,628.5 1325.4,618.9 1337.9,608.7 1348.4,602.3 1357.1,595.9"/>
<g fill="#7E2F8E"><circle cx="1053.5" cy="1285" r="8"/><circle cx="1083.7" cy="956.6" r="8"/><circle cx="1101.4" cy="890.3" r="8"/><circle cx="1120.7" cy="826.7" r="8"/><circle cx="1139.9" cy="789.5" r="8"/><circle cx="1159.2" cy="760.6" r="8"/><circle cx="1178.4" cy="741.4" r="8"/><circle cx="1197.1" cy="726.7" r="8"/><circle cx="1214.8" cy="706.8" r="8"/><circle cx="1232.7" cy="693.3" r="8"/><circle cx="1248.6" cy="670.8" r="8"/><circle cx="1266.1" cy="661.8" r="8"/><circle cx="1282.4" cy="649.4" r="8"/><circle cx="1297.8" cy="639.5" r="8"/><circle cx="1312.5" cy="628.5" r="8"/><circle cx="1325.4" cy="618.9" r="8"/><circle cx="1337.9" cy="608.7" r="8"/><circle cx="1348.4" cy="602.3" r="8"/><circle cx="1357.1" cy="595.9" r="8"/></g>
<polyline fill="none" stroke="#555555" stroke-width="2.6" points="1053.5,1285 1091.8,1082.4 1111.3,1013.7 1133.3,960.7 1154.3,920.7 1174.8,886.7 1194.3,857.5 1212.7,830.9 1230.6,805.2 1248.1,782.8 1265.3,763.8 1281.5,743.3 1297.6,725.9 1313.1,713.6 1327.2,697.3 1339.9,684.4 1352.6,673.6 1362.7,663.9 1367.6,658.6"/>
<g fill="#7E2F8E"><circle cx="1053.5" cy="1285" r="8"/><circle cx="1091.8" cy="1082.4" r="8"/><circle cx="1111.3" cy="1013.7" r="8"/><circle cx="1133.3" cy="960.7" r="8"/><circle cx="1154.3" cy="920.7" r="8"/><circle cx="1174.8" cy="886.7" r="8"/><circle cx="1194.3" cy="857.5" r="8"/><circle cx="1212.7" cy="830.9" r="8"/><circle cx="1230.6" cy="805.2" r="8"/><circle cx="1248.1" cy="782.8" r="8"/><circle cx="1265.3" cy="763.8" r="8"/><circle cx="1281.5" cy="743.3" r="8"/><circle cx="1297.6" cy="725.9" r="8"/><circle cx="1313.1" cy="713.6" r="8"/><circle cx="1327.2" cy="697.3" r="8"/><circle cx="1339.9" cy="684.4" r="8"/><circle cx="1352.6" cy="673.6" r="8"/><circle cx="1362.7" cy="663.9" r="8"/><circle cx="1367.6" cy="658.6" r="8"/></g>
<polyline fill="none" stroke="#555555" stroke-width="2.6" points="1053.5,1285 1095.8,1121.2 1117.6,1064.4 1141.2,1016 1163.5,979.2 1185.2,947.2 1205.8,919.6 1225.2,894.6 1244.2,871.2 1262.9,851.4 1281.9,836.8 1299.6,820.2 1316.1,802 1330.8,784.1 1345.1,767 1358.1,754 1370.8,741.9 1381.4,732.8 1390.7,725.4"/>
<g fill="#7E2F8E"><circle cx="1053.5" cy="1285" r="8"/><circle cx="1095.8" cy="1121.2" r="8"/><circle cx="1117.6" cy="1064.4" r="8"/><circle cx="1141.2" cy="1016" r="8"/><circle cx="1163.5" cy="979.2" r="8"/><circle cx="1185.2" cy="947.2" r="8"/><circle cx="1205.8" cy="919.6" r="8"/><circle cx="1225.2" cy="894.6" r="8"/><circle cx="1244.2" cy="871.2" r="8"/><circle cx="1262.9" cy="851.4" r="8"/><circle cx="1281.9" cy="836.8" r="8"/><circle cx="1299.6" cy="820.2" r="8"/><circle cx="1316.1" cy="802" r="8"/><circle cx="1330.8" cy="784.1" r="8"/><circle cx="1345.1" cy="767" r="8"/><circle cx="1358.1" cy="754" r="8"/><circle cx="1370.8" cy="741.9" r="8"/><circle cx="1381.4" cy="732.8" r="8"/><circle cx="1390.7" cy="725.4" r="8"/></g>
<polyline fill="none" stroke="#555555" stroke-width="2.6" points="1053.5,1285 1111.1,1195.3 1133.5,1143.5 1158.3,1096.7 1182,1060.7 1204.7,1028.9 1226.2,1000.8 1246.8,976.8 1266.6,953.5 1286.2,934 1304.7,914.5 1322.8,896.8 1340.3,880 1356.2,864.5 1371.4,849.3 1384.7,836 1397.9,823.9 1409,815 1418.7,807.6"/>
<g fill="#D40E0E"><circle cx="1053.5" cy="1285" r="13.8"/><circle cx="1111.1" cy="1195.3" r="13.8"/><circle cx="1133.5" cy="1143.5" r="13.8"/><circle cx="1158.3" cy="1096.7" r="13.8"/><circle cx="1182" cy="1060.7" r="13.8"/><circle cx="1204.7" cy="1028.9" r="13.8"/><circle cx="1226.2" cy="1000.8" r="13.8"/><circle cx="1246.8" cy="976.8" r="13.8"/><circle cx="1266.6" cy="953.5" r="13.8"/><circle cx="1286.2" cy="934" r="13.8"/><circle cx="1304.7" cy="914.5" r="13.8"/><circle cx="1322.8" cy="896.8" r="13.8"/><circle cx="1340.3" cy="880" r="13.8"/><circle cx="1356.2" cy="864.5" r="13.8"/><circle cx="1371.4" cy="849.3" r="13.8"/><circle cx="1384.7" cy="836" r="13.8"/><circle cx="1397.9" cy="823.9" r="13.8"/><circle cx="1409" cy="815" r="13.8"/><circle cx="1418.7" cy="807.6" r="13.8"/></g>
<polyline fill="none" stroke="#555555" stroke-width="2.6" points="1053.5,1285 1225.9,1272.9 1228.4,1255.4 1237,1223.6 1245.2,1184.3 1258.8,1146 1275.1,1112.3 1291.1,1081.1 1308.1,1052.8 1324.5,1026.2 1343.2,1006.3 1358.7,982.6 1374.4,961.5 1388.4,941.6 1402,922.4 1414.8,907.6 1427,893 1437.6,882.4 1447.1,874.1"/>
<g fill="#7E2F8E"><circle cx="1053.5" cy="1285" r="8"/><circle cx="1225.9" cy="1272.9" r="8"/><circle cx="1228.4" cy="1255.4" r="8"/><circle cx="1237" cy="1223.6" r="8"/><circle cx="1245.2" cy="1184.3" r="8"/><circle cx="1258.8" cy="1146" r="8"/><circle cx="1275.1" cy="1112.3" r="8"/><circle cx="1291.1" cy="1081.1" r="8"/><circle cx="1308.1" cy="1052.8" r="8"/><circle cx="1324.5" cy="1026.2" r="8"/><circle cx="1343.2" cy="1006.3" r="8"/><circle cx="1358.7" cy="982.6" r="8"/><circle cx="1374.4" cy="961.5" r="8"/><circle cx="1388.4" cy="941.6" r="8"/><circle cx="1402" cy="922.4" r="8"/><circle cx="1414.8" cy="907.6" r="8"/><circle cx="1427" cy="893" r="8"/><circle cx="1437.6" cy="882.4" r="8"/><circle cx="1447.1" cy="874.1" r="8"/></g>
<polyline fill="none" stroke="#555555" stroke-width="2.6" points="1053.5,1285 1232.2,1278.4 1245,1260.3 1266,1239.2 1284.4,1215.6 1300.5,1188.9 1317.8,1163.6 1334.4,1139.1 1350.7,1114.7 1366.7,1091.2 1382.5,1069 1397.8,1047.4 1412.9,1027.1 1426.2,1007.7 1440.9,991.6 1453.1,976.6 1464.6,961.3 1473.4,948.2 1481.1,936.6"/>
<g fill="#7E2F8E"><circle cx="1053.5" cy="1285" r="8"/><circle cx="1232.2" cy="1278.4" r="8"/><circle cx="1245" cy="1260.3" r="8"/><circle cx="1266" cy="1239.2" r="8"/><circle cx="1284.4" cy="1215.6" r="8"/><circle cx="1300.5" cy="1188.9" r="8"/><circle cx="1317.8" cy="1163.6" r="8"/><circle cx="1334.4" cy="1139.1" r="8"/><circle cx="1350.7" cy="1114.7" r="8"/><circle cx="1366.7" cy="1091.2" r="8"/><circle cx="1382.5" cy="1069" r="8"/><circle cx="1397.8" cy="1047.4" r="8"/><circle cx="1412.9" cy="1027.1" r="8"/><circle cx="1426.2" cy="1007.7" r="8"/><circle cx="1440.9" cy="991.6" r="8"/><circle cx="1453.1" cy="976.6" r="8"/><circle cx="1464.6" cy="961.3" r="8"/><circle cx="1473.4" cy="948.2" r="8"/><circle cx="1481.1" cy="936.6" r="8"/></g>
<polyline fill="none" stroke="#555555" stroke-width="2.6" points="1053.5,1285 1242.3,1278.4 1274.3,1266.4 1304.1,1252.1 1326.2,1235.2 1347.1,1217 1366.6,1198.5 1385.4,1180.5 1403.2,1162 1420.7,1144 1437.6,1126.5 1454.4,1109.8 1471.3,1094.1 1486.4,1079.5 1503.5,1067.6 1515.9,1054.7 1527.8,1041.8 1536.9,1030.9 1545.7,1022.1"/>
<g fill="#7E2F8E"><circle cx="1053.5" cy="1285" r="8"/><circle cx="1242.3" cy="1278.4" r="8"/><circle cx="1274.3" cy="1266.4" r="8"/><circle cx="1304.1" cy="1252.1" r="8"/><circle cx="1326.2" cy="1235.2" r="8"/><circle cx="1347.1" cy="1217" r="8"/><circle cx="1366.6" cy="1198.5" r="8"/><circle cx="1385.4" cy="1180.5" r="8"/><circle cx="1403.2" cy="1162" r="8"/><circle cx="1420.7" cy="1144" r="8"/><circle cx="1437.6" cy="1126.5" r="8"/><circle cx="1454.4" cy="1109.8" r="8"/><circle cx="1471.3" cy="1094.1" r="8"/><circle cx="1486.4" cy="1079.5" r="8"/><circle cx="1503.5" cy="1067.6" r="8"/><circle cx="1515.9" cy="1054.7" r="8"/><circle cx="1527.8" cy="1041.8" r="8"/><circle cx="1536.9" cy="1030.9" r="8"/><circle cx="1545.7" cy="1022.1" r="8"/></g>
<polyline fill="none" stroke="#555555" stroke-width="2.6" points="1053.5,1285 1252.4,1278.4 1301.9,1270.3 1347.2,1261 1384.7,1251.3 1411,1239.2 1432.9,1226.1 1452.8,1212.8 1472.5,1199.3 1489.9,1185.2 1506.1,1170.8 1521.3,1156.3 1535.8,1141.8 1549.2,1128.2 1561.6,1114.4 1573.6,1102.9 1587.1,1092.9 1595.6,1082.9 1602.6,1073.7"/>
<g fill="#7E2F8E"><circle cx="1053.5" cy="1285" r="8"/><circle cx="1252.4" cy="1278.4" r="8"/><circle cx="1301.9" cy="1270.3" r="8"/><circle cx="1347.2" cy="1261" r="8"/><circle cx="1384.7" cy="1251.3" r="8"/><circle cx="1411" cy="1239.2" r="8"/><circle cx="1432.9" cy="1226.1" r="8"/><circle cx="1452.8" cy="1212.8" r="8"/><circle cx="1472.5" cy="1199.3" r="8"/><circle cx="1489.9" cy="1185.2" r="8"/><circle cx="1506.1" cy="1170.8" r="8"/><circle cx="1521.3" cy="1156.3" r="8"/><circle cx="1535.8" cy="1141.8" r="8"/><circle cx="1549.2" cy="1128.2" r="8"/><circle cx="1561.6" cy="1114.4" r="8"/><circle cx="1573.6" cy="1102.9" r="8"/><circle cx="1587.1" cy="1092.9" r="8"/><circle cx="1595.6" cy="1082.9" r="8"/><circle cx="1602.6" cy="1073.7" r="8"/></g>
<polyline fill="none" stroke="#555555" stroke-width="2.6" points="1053.5,1285 1262.5,1278.4 1323.3,1272.6 1382.9,1266 1426.9,1258.4 1460.7,1249.7 1490.5,1240.6 1516,1231.2 1538.9,1221.2 1561,1211.2 1580.3,1200.7 1598.3,1190.1 1615.4,1179.5 1630.3,1169.2 1645.6,1159.4 1658.5,1150.4 1671.8,1141.9 1684,1135.6 1692.2,1128.9"/>
<g fill="#7E2F8E"><circle cx="1053.5" cy="1285" r="8"/><circle cx="1262.5" cy="1278.4" r="8"/><circle cx="1323.3" cy="1272.6" r="8"/><circle cx="1382.9" cy="1266" r="8"/><circle cx="1426.9" cy="1258.4" r="8"/><circle cx="1460.7" cy="1249.7" r="8"/><circle cx="1490.5" cy="1240.6" r="8"/><circle cx="1516" cy="1231.2" r="8"/><circle cx="1538.9" cy="1221.2" r="8"/><circle cx="1561" cy="1211.2" r="8"/><circle cx="1580.3" cy="1200.7" r="8"/><circle cx="1598.3" cy="1190.1" r="8"/><circle cx="1615.4" cy="1179.5" r="8"/><circle cx="1630.3" cy="1169.2" r="8"/><circle cx="1645.6" cy="1159.4" r="8"/><circle cx="1658.5" cy="1150.4" r="8"/><circle cx="1671.8" cy="1141.9" r="8"/><circle cx="1684" cy="1135.6" r="8"/><circle cx="1692.2" cy="1128.9" r="8"/></g>
<polyline fill="none" stroke="#555555" stroke-width="2.6" points="1053.5,1285 1272.6,1279.1 1318.3,1272.1 1397.4,1267.5 1457,1262.3 1504.4,1256.2 1540.5,1249.3 1570.5,1241.9 1598.6,1234.4 1623.5,1226.5 1645.5,1218.3 1664.9,1209.7 1684.8,1201.4 1700.3,1192.9 1715.7,1184.6 1728.8,1177 1741.5,1169.4 1754.8,1164.3 1765.7,1159.4"/>
<g fill="#7E2F8E"><circle cx="1053.5" cy="1285" r="8"/><circle cx="1272.6" cy="1279.1" r="8"/><circle cx="1318.3" cy="1272.1" r="8"/><circle cx="1397.4" cy="1267.5" r="8"/><circle cx="1457" cy="1262.3" r="8"/><circle cx="1504.4" cy="1256.2" r="8"/><circle cx="1540.5" cy="1249.3" r="8"/><circle cx="1570.5" cy="1241.9" r="8"/><circle cx="1598.6" cy="1234.4" r="8"/><circle cx="1623.5" cy="1226.5" r="8"/><circle cx="1645.5" cy="1218.3" r="8"/><circle cx="1664.9" cy="1209.7" r="8"/><circle cx="1684.8" cy="1201.4" r="8"/><circle cx="1700.3" cy="1192.9" r="8"/><circle cx="1715.7" cy="1184.6" r="8"/><circle cx="1728.8" cy="1177" r="8"/><circle cx="1741.5" cy="1169.4" r="8"/><circle cx="1754.8" cy="1164.3" r="8"/><circle cx="1765.7" cy="1159.4" r="8"/></g>
<polyline fill="none" stroke="#555555" stroke-width="2.6" points="1053.5,1285 1282.7,1279.1 1347.2,1274.5 1438.4,1271 1508.2,1267.1 1566.2,1262.7 1607,1257.3 1645.7,1252.2 1675.5,1246.1 1703.7,1240 1728.8,1233.7 1749.8,1226.9 1771,1220.3 1789.1,1213.8 1806.8,1207.4 1820.7,1201.3 1835.1,1195.5 1848,1190.9 1857.3,1186.4"/>
<g fill="#7E2F8E"><circle cx="1053.5" cy="1285" r="8"/><circle cx="1282.7" cy="1279.1" r="8"/><circle cx="1347.2" cy="1274.5" r="8"/><circle cx="1438.4" cy="1271" r="8"/><circle cx="1508.2" cy="1267.1" r="8"/><circle cx="1566.2" cy="1262.7" r="8"/><circle cx="1607" cy="1257.3" r="8"/><circle cx="1645.7" cy="1252.2" r="8"/><circle cx="1675.5" cy="1246.1" r="8"/><circle cx="1703.7" cy="1240" r="8"/><circle cx="1728.8" cy="1233.7" r="8"/><circle cx="1749.8" cy="1226.9" r="8"/><circle cx="1771" cy="1220.3" r="8"/><circle cx="1789.1" cy="1213.8" r="8"/><circle cx="1806.8" cy="1207.4" r="8"/><circle cx="1820.7" cy="1201.3" r="8"/><circle cx="1835.1" cy="1195.5" r="8"/><circle cx="1848" cy="1190.9" r="8"/><circle cx="1857.3" cy="1186.4" r="8"/></g>
<polyline fill="none" stroke="#555555" stroke-width="2.6" points="1053.5,1285 1292.9,1279.1 1348.2,1274.6 1449.1,1271.8 1529.9,1268.7 1597.3,1265.2 1652.8,1261.4 1697.5,1257.2 1739.1,1253 1770.6,1248 1802.8,1243.3 1828.7,1238.1 1853.5,1233 1873.8,1227.8 1893.7,1222.6 1911.1,1218 1926.1,1213.2 1939.3,1209.3 1949.1,1205.6"/>
<g fill="#7E2F8E"><circle cx="1053.5" cy="1285" r="8"/><circle cx="1292.9" cy="1279.1" r="8"/><circle cx="1348.2" cy="1274.6" r="8"/><circle cx="1449.1" cy="1271.8" r="8"/><circle cx="1529.9" cy="1268.7" r="8"/><circle cx="1597.3" cy="1265.2" r="8"/><circle cx="1652.8" cy="1261.4" r="8"/><circle cx="1697.5" cy="1257.2" r="8"/><circle cx="1739.1" cy="1253" r="8"/><circle cx="1770.6" cy="1248" r="8"/><circle cx="1802.8" cy="1243.3" r="8"/><circle cx="1828.7" cy="1238.1" r="8"/><circle cx="1853.5" cy="1233" r="8"/><circle cx="1873.8" cy="1227.8" r="8"/><circle cx="1893.7" cy="1222.6" r="8"/><circle cx="1911.1" cy="1218" r="8"/><circle cx="1926.1" cy="1213.2" r="8"/><circle cx="1939.3" cy="1209.3" r="8"/><circle cx="1949.1" cy="1205.6" r="8"/></g>
<polyline fill="none" stroke="#555555" stroke-width="2.6" points="1053.5,1285 1303,1279.1 1363.9,1275.6 1474.8,1273.4 1565.2,1270.9 1641.8,1268.1 1705.6,1265.1 1759.1,1261.9 1807.5,1258.5 1846,1254.7 1878.8,1250.7 1911.7,1246.8 1942.1,1242.8 1967.4,1238.9 1989.7,1234.8 2007.9,1230.9 2026.7,1227.3 2042,1224.2 2053.2,1221.3"/>
<g fill="#7E2F8E"><circle cx="1053.5" cy="1285" r="8"/><circle cx="1303" cy="1279.1" r="8"/><circle cx="1363.9" cy="1275.6" r="8"/><circle cx="1474.8" cy="1273.4" r="8"/><circle cx="1565.2" cy="1270.9" r="8"/><circle cx="1641.8" cy="1268.1" r="8"/><circle cx="1705.6" cy="1265.1" r="8"/><circle cx="1759.1" cy="1261.9" r="8"/><circle cx="1807.5" cy="1258.5" r="8"/><circle cx="1846" cy="1254.7" r="8"/><circle cx="1878.8" cy="1250.7" r="8"/><circle cx="1911.7" cy="1246.8" r="8"/><circle cx="1942.1" cy="1242.8" r="8"/><circle cx="1967.4" cy="1238.9" r="8"/><circle cx="1989.7" cy="1234.8" r="8"/><circle cx="2007.9" cy="1230.9" r="8"/><circle cx="2026.7" cy="1227.3" r="8"/><circle cx="2042" cy="1224.2" r="8"/><circle cx="2053.2" cy="1221.3" r="8"/></g>
<polyline fill="none" stroke="#555555" stroke-width="2.6" points="1053.5,1285 1313.1,1279.1 1382.1,1276.6 1503.7,1274.8 1604.6,1272.8 1691.3,1270.6 1764.4,1268.2 1823.2,1265.6 1882.1,1263.1 1932.5,1260.4 1969.5,1257.1 2006.2,1254 2040.5,1250.8 2067.3,1247.5 2098.4,1244.7 2119.1,1241.6 2141.1,1238.8 2161.4,1236.6 2175.5,1234.4"/>
<g fill="#7E2F8E"><circle cx="1053.5" cy="1285" r="8"/><circle cx="1313.1" cy="1279.1" r="8"/><circle cx="1382.1" cy="1276.6" r="8"/><circle cx="1503.7" cy="1274.8" r="8"/><circle cx="1604.6" cy="1272.8" r="8"/><circle cx="1691.3" cy="1270.6" r="8"/><circle cx="1764.4" cy="1268.2" r="8"/><circle cx="1823.2" cy="1265.6" r="8"/><circle cx="1882.1" cy="1263.1" r="8"/><circle cx="1932.5" cy="1260.4" r="8"/><circle cx="1969.5" cy="1257.1" r="8"/><circle cx="2006.2" cy="1254" r="8"/><circle cx="2040.5" cy="1250.8" r="8"/><circle cx="2067.3" cy="1247.5" r="8"/><circle cx="2098.4" cy="1244.7" r="8"/><circle cx="2119.1" cy="1241.6" r="8"/><circle cx="2141.1" cy="1238.8" r="8"/><circle cx="2161.4" cy="1236.6" r="8"/><circle cx="2175.5" cy="1234.4" r="8"/></g>
<polyline fill="none" stroke="#555555" stroke-width="2.6" points="1053.5,1285 1323.2,1279.1 1400,1277.5 1533.5,1276 1646.5,1274.5 1745.2,1272.8 1829.9,1270.9 1899.4,1268.9 1970.2,1267.1 2023.2,1264.8 2073.5,1262.5 2117.8,1260.1 2160.8,1257.8 2196.3,1255.5 2229.3,1253.1 2254.8,1250.9 2282.4,1248.8 2302,1246.9 2322,1245.4"/>
<g fill="#7E2F8E"><circle cx="1053.5" cy="1285" r="8"/><circle cx="1323.2" cy="1279.1" r="8"/><circle cx="1400" cy="1277.5" r="8"/><circle cx="1533.5" cy="1276" r="8"/><circle cx="1646.5" cy="1274.5" r="8"/><circle cx="1745.2" cy="1272.8" r="8"/><circle cx="1829.9" cy="1270.9" r="8"/><circle cx="1899.4" cy="1268.9" r="8"/><circle cx="1970.2" cy="1267.1" r="8"/><circle cx="2023.2" cy="1264.8" r="8"/><circle cx="2073.5" cy="1262.5" r="8"/><circle cx="2117.8" cy="1260.1" r="8"/><circle cx="2160.8" cy="1257.8" r="8"/><circle cx="2196.3" cy="1255.5" r="8"/><circle cx="2229.3" cy="1253.1" r="8"/><circle cx="2254.8" cy="1250.9" r="8"/><circle cx="2282.4" cy="1248.8" r="8"/><circle cx="2302" cy="1246.9" r="8"/><circle cx="2322" cy="1245.4" r="8"/></g>
</g>
<path d="M1338,238.5 C1339.6,245.4 1344.4,266.2 1347.5,280.1 C1350.6,294 1353.5,308 1356.5,321.9 C1359.5,335.8 1362.5,349.7 1365.7,363.6 C1368.9,377.5 1372.2,391.4 1375.7,405.2 C1379.2,419 1382.8,432.8 1386.6,446.5 C1390.4,460.2 1394.4,473.9 1398.6,487.5 C1402.8,501.1 1407.1,514.6 1411.6,528.1 C1416.1,541.6 1420.8,555.1 1425.6,568.5 C1430.4,581.9 1435.5,595.1 1440.7,608.4 C1445.9,621.6 1451.2,634.9 1456.8,648 C1462.3,661.1 1468.1,674.1 1474,687.1 C1479.9,700.1 1486,713 1492.3,725.7 C1498.6,738.5 1505.1,751.1 1511.8,763.6 C1518.5,776.1 1525.5,788.6 1532.7,800.9 C1539.9,813.2 1547.5,825.3 1555.2,837.3 C1563,849.2 1570.9,861 1579.2,872.6 C1587.5,884.2 1596.1,895.5 1605,906.6 C1613.9,917.7 1623.1,928.6 1632.6,939.2 C1642.1,949.8 1651.9,960.2 1662,970.2 C1672.1,980.2 1682.6,989.9 1693.3,999.3 C1704,1008.7 1715,1017.7 1726.3,1026.4 C1737.6,1035.1 1749.1,1043.5 1760.9,1051.4 C1772.7,1059.4 1784.8,1066.9 1797.1,1074.1 C1809.4,1081.3 1821.9,1088.2 1834.6,1094.7 C1847.3,1101.2 1860.2,1107.2 1873.2,1112.9 C1886.2,1118.6 1899.5,1124 1912.8,1129.1 C1926.1,1134.2 1939.6,1138.9 1953.1,1143.3 C1966.6,1147.7 1980.3,1151.8 1994,1155.6 C2007.7,1159.4 2021.5,1162.9 2035.3,1166.2 C2049.2,1169.5 2063.1,1172.5 2077.1,1175.2 C2091.1,1178 2105,1180.5 2119.1,1182.7 C2133.2,1184.9 2147.2,1186.9 2161.4,1188.5 C2175.6,1190.1 2196.9,1191.6 2204,1192.2" fill="none" stroke="#000" stroke-width="2.6"/>
<polygon fill="#000" points="2227.9,1194.3 2201.1,1199.8 2202.2,1185"/>
<line x1="1516.5" y1="741.9" x2="1462" y2="785.5" stroke="#FF0000" stroke-width="2.2"/>
<polygon fill="#FF0000" points="1444.7,799.3 1462.2,776.3 1470.9,787.3"/>
<text x="1347.5" y="1472.4" font-size="96" textLength="763.5">μ<tspan font-size="65" dy="26">0</tspan><tspan dy="-26">H/M(T/Am</tspan><tspan font-size="65" dy="-39">2</tspan><tspan dy="39">kg</tspan><tspan font-size="65" dy="-39">−1</tspan><tspan dy="39">)</tspan></text>
<text transform="translate(946,1050) rotate(-90)" font-size="111" textLength="786.6">10<tspan font-size="75" dy="-45">3</tspan><tspan dy="45">.M</tspan><tspan font-size="75" dy="-45">2</tspan><tspan dy="45">(Am</tspan><tspan font-size="75" dy="-45">2</tspan><tspan dy="45">kg</tspan><tspan font-size="75" dy="-45">−1</tspan><tspan dy="45">)</tspan></text>
<text x="1325.3" y="217.6" font-size="75" textLength="171.5" lengthAdjust="spacingAndGlyphs">500K</text>
<text x="1669.2" y="984.4" font-size="75" textLength="139.5" lengthAdjust="spacingAndGlyphs">+5K</text>
<text x="2228.3" y="1213.4" font-size="75" textLength="170.3" lengthAdjust="spacingAndGlyphs">600K</text>
<text font-size="95" style="fill:#D40E0E"><tspan x="1518.3" y="738.4">T</tspan><tspan x="1573.2" y="764" font-size="65">C</tspan><tspan x="1613.2" y="738.4">= </tspan><tspan x="1692.2" y="738.4" font-size="94.5" textLength="205.1" lengthAdjust="spacingAndGlyphs">545K</tspan></text>
</svg></body></html>
